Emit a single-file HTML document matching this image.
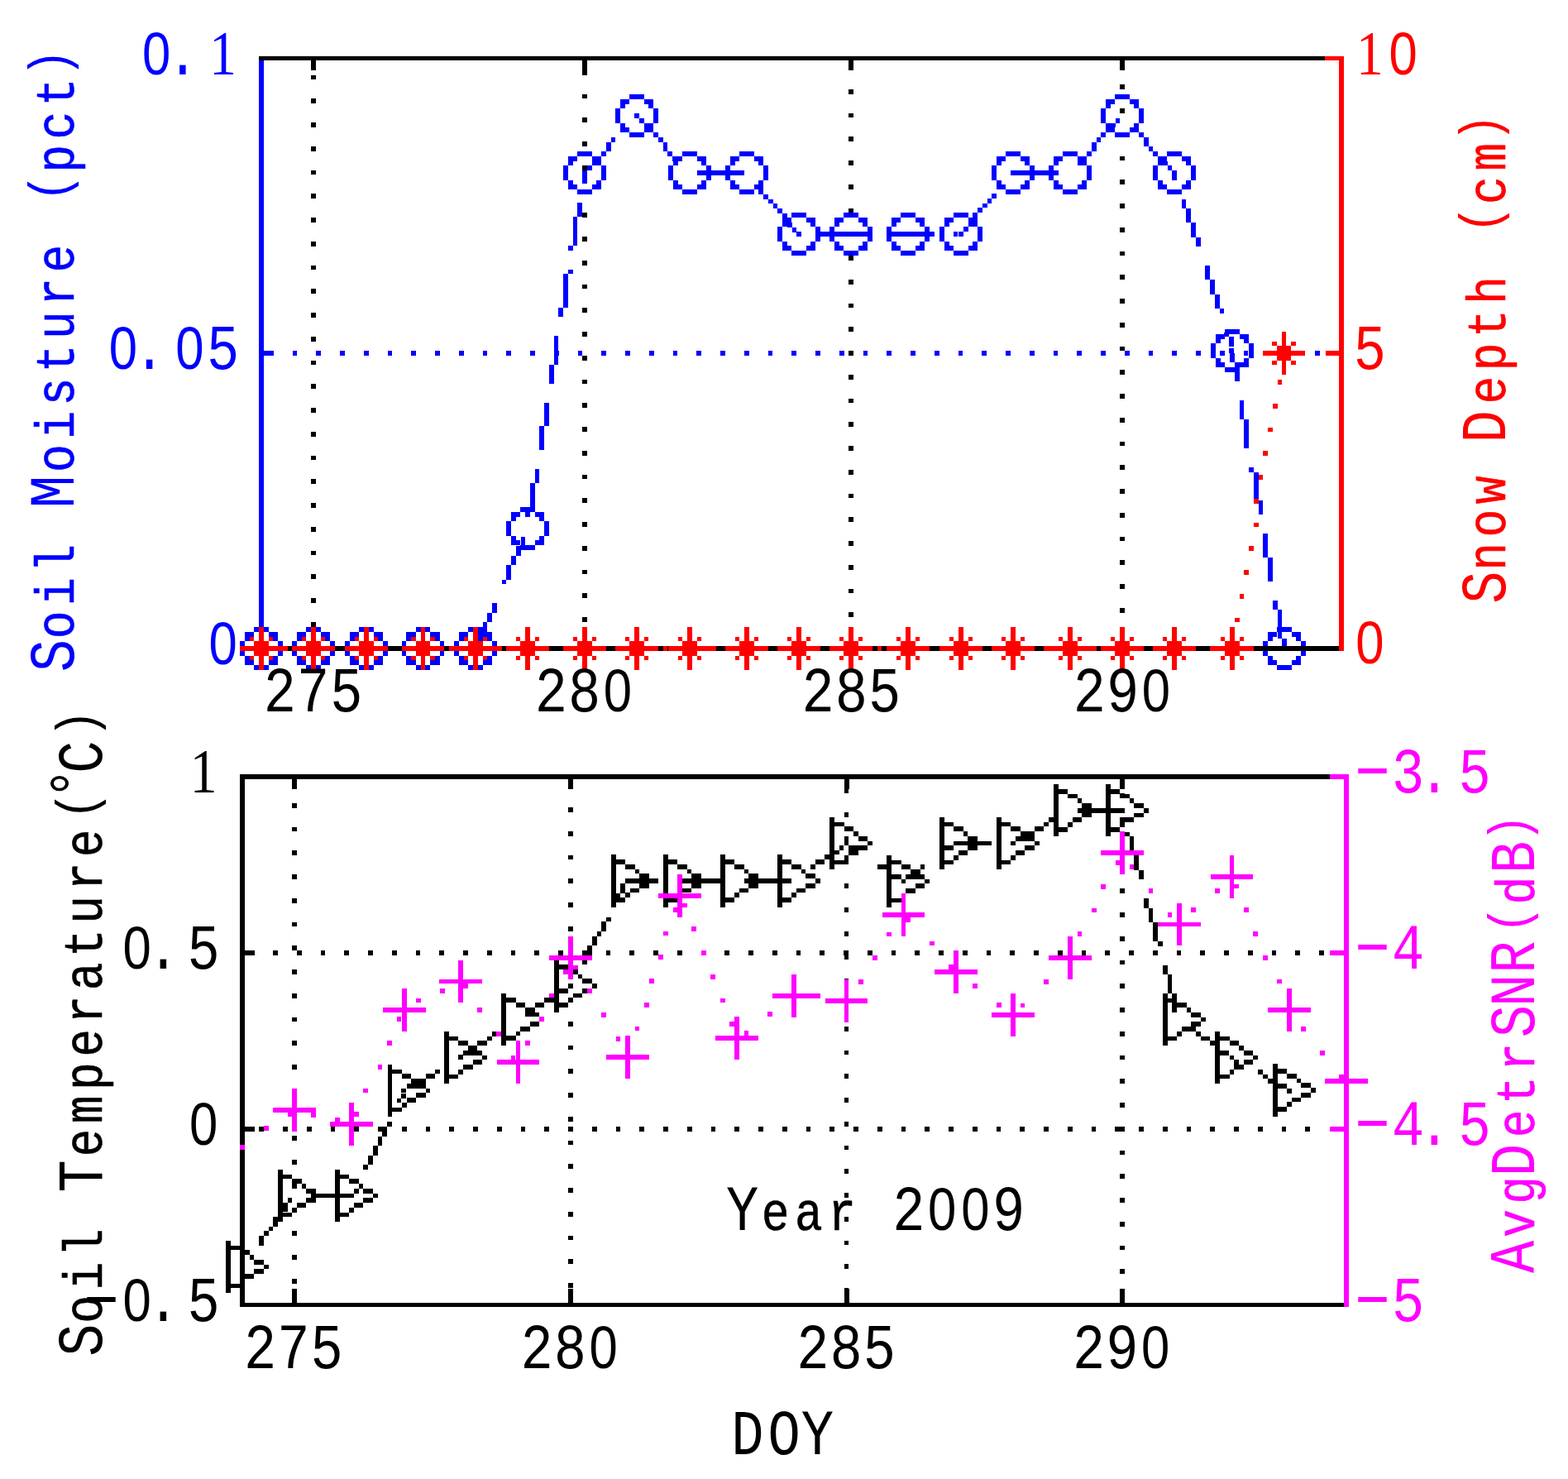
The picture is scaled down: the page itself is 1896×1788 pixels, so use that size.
<!DOCTYPE html>
<html><head><meta charset="utf-8"><title>Soil Moisture / Snow Depth / Soil Temperature - Year 2009</title>
<style>
html,body{margin:0;padding:0;background:#fff;}
body{width:1896px;height:1788px;overflow:hidden;}
svg{display:block;}
text{font-family:'Liberation Mono', 'DejaVu Sans Mono', monospace;stroke-linejoin:round;white-space:pre;}
</style></head>
<body>
<svg width="1896" height="1788" viewBox="0 0 1896 1788">
<rect x="0" y="0" width="1896" height="1788" fill="#ffffff"/>
<g shape-rendering="crispEdges">
<path fill="#000000" d="M376.12 90.67h5.75v5.75h-5.75zM376.12 119.42h5.75v5.75h-5.75zM376.12 148.18h5.75v5.75h-5.75zM376.12 176.93h5.75v5.75h-5.75zM376.12 205.68h5.75v5.75h-5.75zM376.12 234.43h5.75v5.75h-5.75zM376.12 263.18h5.75v5.75h-5.75zM376.12 291.93h5.75v5.75h-5.75zM376.12 320.68h5.75v5.75h-5.75zM376.12 349.43h5.75v5.75h-5.75zM376.12 378.18h5.75v5.75h-5.75zM376.12 406.93h5.75v5.75h-5.75zM376.12 435.68h5.75v5.75h-5.75zM376.12 464.43h5.75v5.75h-5.75zM376.12 493.18h5.75v5.75h-5.75zM376.12 521.92h5.75v5.75h-5.75zM376.12 550.67h5.75v5.75h-5.75zM376.12 579.42h5.75v5.75h-5.75zM376.12 608.17h5.75v5.75h-5.75zM376.12 636.92h5.75v5.75h-5.75zM376.12 665.67h5.75v5.75h-5.75zM376.12 694.42h5.75v5.75h-5.75zM376.12 723.17h5.75v5.75h-5.75zM376.12 751.92h5.75v5.75h-5.75zM376 73h6v11.5h-6zM376 769.5h6v11.5h-6zM704.12 84.88h5.75v5.75h-5.75zM704.12 113.62h5.75v5.75h-5.75zM704.12 142.38h5.75v5.75h-5.75zM704.12 171.12h5.75v5.75h-5.75zM704.12 199.88h5.75v5.75h-5.75zM704.12 228.62h5.75v5.75h-5.75zM704.12 257.38h5.75v5.75h-5.75zM704.12 286.12h5.75v5.75h-5.75zM704.12 314.88h5.75v5.75h-5.75zM704.12 343.62h5.75v5.75h-5.75zM704.12 372.38h5.75v5.75h-5.75zM704.12 401.12h5.75v5.75h-5.75zM704.12 429.88h5.75v5.75h-5.75zM704.12 458.62h5.75v5.75h-5.75zM704.12 487.38h5.75v5.75h-5.75zM704.12 516.12h5.75v5.75h-5.75zM704.12 544.88h5.75v5.75h-5.75zM704.12 573.62h5.75v5.75h-5.75zM704.12 602.38h5.75v5.75h-5.75zM704.12 631.12h5.75v5.75h-5.75zM704.12 659.88h5.75v5.75h-5.75zM704.12 688.62h5.75v5.75h-5.75zM704.12 717.38h5.75v5.75h-5.75zM704.12 746.12h5.75v5.75h-5.75zM704.12 774.88h5.75v5.75h-5.75zM704 73h6v11.5h-6zM704 769.5h6v11.5h-6zM1026.12 79.08h5.75v5.75h-5.75zM1026.12 107.83h5.75v5.75h-5.75zM1026.12 136.57h5.75v5.75h-5.75zM1026.12 165.32h5.75v5.75h-5.75zM1026.12 194.07h5.75v5.75h-5.75zM1026.12 222.82h5.75v5.75h-5.75zM1026.12 251.57h5.75v5.75h-5.75zM1026.12 280.32h5.75v5.75h-5.75zM1026.12 309.07h5.75v5.75h-5.75zM1026.12 337.82h5.75v5.75h-5.75zM1026.12 366.57h5.75v5.75h-5.75zM1026.12 395.32h5.75v5.75h-5.75zM1026.12 424.07h5.75v5.75h-5.75zM1026.12 452.82h5.75v5.75h-5.75zM1026.12 481.57h5.75v5.75h-5.75zM1026.12 510.33h5.75v5.75h-5.75zM1026.12 539.08h5.75v5.75h-5.75zM1026.12 567.83h5.75v5.75h-5.75zM1026.12 596.58h5.75v5.75h-5.75zM1026.12 625.33h5.75v5.75h-5.75zM1026.12 654.08h5.75v5.75h-5.75zM1026.12 682.83h5.75v5.75h-5.75zM1026.12 711.58h5.75v5.75h-5.75zM1026.12 740.33h5.75v5.75h-5.75zM1026.12 769.08h5.75v5.75h-5.75zM1026 73h6v11.5h-6zM1026 769.5h6v11.5h-6zM1354.12 73.53h5.75v5.75h-5.75zM1354.12 102.28h5.75v5.75h-5.75zM1354.12 131.03h5.75v5.75h-5.75zM1354.12 159.78h5.75v5.75h-5.75zM1354.12 188.53h5.75v5.75h-5.75zM1354.12 217.28h5.75v5.75h-5.75zM1354.12 246.03h5.75v5.75h-5.75zM1354.12 274.77h5.75v5.75h-5.75zM1354.12 303.52h5.75v5.75h-5.75zM1354.12 332.27h5.75v5.75h-5.75zM1354.12 361.02h5.75v5.75h-5.75zM1354.12 389.77h5.75v5.75h-5.75zM1354.12 418.52h5.75v5.75h-5.75zM1354.12 447.27h5.75v5.75h-5.75zM1354.12 476.02h5.75v5.75h-5.75zM1354.12 504.77h5.75v5.75h-5.75zM1354.12 533.52h5.75v5.75h-5.75zM1354.12 562.27h5.75v5.75h-5.75zM1354.12 591.02h5.75v5.75h-5.75zM1354.12 619.77h5.75v5.75h-5.75zM1354.12 648.52h5.75v5.75h-5.75zM1354.12 677.27h5.75v5.75h-5.75zM1354.12 706.02h5.75v5.75h-5.75zM1354.12 734.77h5.75v5.75h-5.75zM1354.12 763.52h5.75v5.75h-5.75zM1354 73h6v11.5h-6zM1354 769.5h6v11.5h-6z"/>
<path fill="#0000ff" d="M324.77 424.12h5.75v5.75h-5.75zM353.52 424.12h5.75v5.75h-5.75zM382.27 424.12h5.75v5.75h-5.75zM411.02 424.12h5.75v5.75h-5.75zM439.77 424.12h5.75v5.75h-5.75zM468.52 424.12h5.75v5.75h-5.75zM497.27 424.12h5.75v5.75h-5.75zM526.02 424.12h5.75v5.75h-5.75zM554.77 424.12h5.75v5.75h-5.75zM583.52 424.12h5.75v5.75h-5.75zM612.27 424.12h5.75v5.75h-5.75zM641.02 424.12h5.75v5.75h-5.75zM669.77 424.12h5.75v5.75h-5.75zM698.52 424.12h5.75v5.75h-5.75zM727.27 424.12h5.75v5.75h-5.75zM756.02 424.12h5.75v5.75h-5.75zM784.77 424.12h5.75v5.75h-5.75zM813.52 424.12h5.75v5.75h-5.75zM842.27 424.12h5.75v5.75h-5.75zM871.02 424.12h5.75v5.75h-5.75zM899.77 424.12h5.75v5.75h-5.75zM928.52 424.12h5.75v5.75h-5.75zM957.27 424.12h5.75v5.75h-5.75zM986.02 424.12h5.75v5.75h-5.75zM1014.77 424.12h5.75v5.75h-5.75zM1043.53 424.12h5.75v5.75h-5.75zM1072.28 424.12h5.75v5.75h-5.75zM1101.03 424.12h5.75v5.75h-5.75zM1129.78 424.12h5.75v5.75h-5.75zM1158.53 424.12h5.75v5.75h-5.75zM1187.28 424.12h5.75v5.75h-5.75zM1216.03 424.12h5.75v5.75h-5.75zM1244.78 424.12h5.75v5.75h-5.75zM1273.53 424.12h5.75v5.75h-5.75zM1302.28 424.12h5.75v5.75h-5.75zM1331.03 424.12h5.75v5.75h-5.75zM1359.78 424.12h5.75v5.75h-5.75zM1388.53 424.12h5.75v5.75h-5.75zM1417.28 424.12h5.75v5.75h-5.75zM1446.03 424.12h5.75v5.75h-5.75zM1474.78 424.12h5.75v5.75h-5.75zM1503.53 424.12h5.75v5.75h-5.75zM1532.28 424.12h5.75v5.75h-5.75zM1561.03 424.12h5.75v5.75h-5.75zM1589.78 424.12h5.75v5.75h-5.75zM319 424h11.5v6h-11.5z"/>
<path fill="#0000ff" d="M330.38 781.12h5.75v5.75h-5.75zM336.12 781.12h5.75v5.75h-5.75zM341.88 781.12h5.75v5.75h-5.75zM347.62 781.12h5.75v5.75h-5.75zM353.38 781.12h5.75v5.75h-5.75zM359.12 781.12h5.75v5.75h-5.75zM364.88 781.12h5.75v5.75h-5.75zM370.62 781.12h5.75v5.75h-5.75zM376.12 781.12h5.75v5.75h-5.75zM381.88 781.12h5.75v5.75h-5.75zM410.62 781.12h5.75v5.75h-5.75zM416.38 781.12h5.75v5.75h-5.75zM422.12 781.12h5.75v5.75h-5.75zM427.88 781.12h5.75v5.75h-5.75zM433.62 781.12h5.75v5.75h-5.75zM440.12 781.12h5.75v5.75h-5.75zM445.88 781.12h5.75v5.75h-5.75zM451.62 781.12h5.75v5.75h-5.75zM457.38 781.12h5.75v5.75h-5.75zM463.12 781.12h5.75v5.75h-5.75zM491.88 781.12h5.75v5.75h-5.75zM497.62 781.12h5.75v5.75h-5.75zM503.38 781.12h5.75v5.75h-5.75zM508.62 781.12h5.75v5.75h-5.75zM514.38 781.12h5.75v5.75h-5.75zM520.12 781.12h5.75v5.75h-5.75zM525.88 781.12h5.75v5.75h-5.75zM531.62 781.12h5.75v5.75h-5.75zM537.38 781.12h5.75v5.75h-5.75zM543.12 781.12h5.75v5.75h-5.75zM572.12 781.12h5.75v5.75h-5.75zM572.12 775.38h5.75v5.75h-5.75zM577.88 769.62h5.75v5.75h-5.75zM577.88 763.88h5.75v5.75h-5.75zM583.62 758.12h5.75v5.75h-5.75zM583.62 752.38h5.75v5.75h-5.75zM589.38 746.62h5.75v5.75h-5.75zM589.38 740.88h5.75v5.75h-5.75zM595.12 735.12h5.75v5.75h-5.75zM595.12 729.38h5.75v5.75h-5.75zM606.62 700.62h5.75v5.75h-5.75zM612.38 694.88h5.75v5.75h-5.75zM612.38 689.12h5.75v5.75h-5.75zM612.38 683.38h5.75v5.75h-5.75zM618.12 677.62h5.75v5.75h-5.75zM618.12 671.88h5.75v5.75h-5.75zM623.88 666.12h5.75v5.75h-5.75zM623.88 660.38h5.75v5.75h-5.75zM629.62 654.62h5.75v5.75h-5.75zM629.62 648.88h5.75v5.75h-5.75zM635.12 618.88h5.75v5.75h-5.75zM640.88 613.12h5.75v5.75h-5.75zM640.88 607.38h5.75v5.75h-5.75zM640.88 601.62h5.75v5.75h-5.75zM640.88 595.88h5.75v5.75h-5.75zM640.88 590.12h5.75v5.75h-5.75zM640.88 584.38h5.75v5.75h-5.75zM646.62 578.62h5.75v5.75h-5.75zM646.62 572.88h5.75v5.75h-5.75zM646.62 567.12h5.75v5.75h-5.75zM652.38 538.38h5.75v5.75h-5.75zM652.38 532.62h5.75v5.75h-5.75zM652.38 526.88h5.75v5.75h-5.75zM652.38 521.12h5.75v5.75h-5.75zM652.38 515.38h5.75v5.75h-5.75zM658.12 509.62h5.75v5.75h-5.75zM658.12 503.88h5.75v5.75h-5.75zM658.12 498.12h5.75v5.75h-5.75zM658.12 492.38h5.75v5.75h-5.75zM658.12 486.62h5.75v5.75h-5.75zM663.88 457.88h5.75v5.75h-5.75zM663.88 452.12h5.75v5.75h-5.75zM663.88 446.38h5.75v5.75h-5.75zM663.88 440.62h5.75v5.75h-5.75zM669.62 434.88h5.75v5.75h-5.75zM669.62 429.12h5.75v5.75h-5.75zM669.62 423.38h5.75v5.75h-5.75zM669.62 417.62h5.75v5.75h-5.75zM669.62 411.88h5.75v5.75h-5.75zM669.62 406.12h5.75v5.75h-5.75zM675.38 377.38h5.75v5.75h-5.75zM675.38 371.62h5.75v5.75h-5.75zM681.12 365.88h5.75v5.75h-5.75zM681.12 360.12h5.75v5.75h-5.75zM681.12 354.38h5.75v5.75h-5.75zM681.12 348.62h5.75v5.75h-5.75zM681.12 342.88h5.75v5.75h-5.75zM681.12 337.12h5.75v5.75h-5.75zM681.12 331.38h5.75v5.75h-5.75zM686.88 325.62h5.75v5.75h-5.75zM686.88 296.88h5.75v5.75h-5.75zM692.62 291.12h5.75v5.75h-5.75zM692.62 285.38h5.75v5.75h-5.75zM692.62 279.62h5.75v5.75h-5.75zM692.62 273.88h5.75v5.75h-5.75zM692.62 268.12h5.75v5.75h-5.75zM692.62 262.38h5.75v5.75h-5.75zM698.38 256.62h5.75v5.75h-5.75zM698.38 250.88h5.75v5.75h-5.75zM698.38 245.12h5.75v5.75h-5.75zM704.12 216.38h5.75v5.75h-5.75zM704.12 210.62h5.75v5.75h-5.75zM704.12 206.12h5.75v5.75h-5.75zM709.88 200.38h5.75v5.75h-5.75zM715.62 194.62h5.75v5.75h-5.75zM721.38 188.88h5.75v5.75h-5.75zM727.12 183.12h5.75v5.75h-5.75zM732.88 177.38h5.75v5.75h-5.75zM732.88 171.62h5.75v5.75h-5.75zM738.62 165.88h5.75v5.75h-5.75zM767.38 137.12h5.75v5.75h-5.75zM772.88 142.88h5.75v5.75h-5.75zM778.62 148.62h5.75v5.75h-5.75zM784.38 154.38h5.75v5.75h-5.75zM790.12 160.12h5.75v5.75h-5.75zM795.88 165.88h5.75v5.75h-5.75zM801.62 171.62h5.75v5.75h-5.75zM801.62 177.38h5.75v5.75h-5.75zM807.38 183.12h5.75v5.75h-5.75zM813.12 188.88h5.75v5.75h-5.75zM842.62 206.12h5.75v5.75h-5.75zM848.38 206.12h5.75v5.75h-5.75zM854.12 206.12h5.75v5.75h-5.75zM859.88 206.12h5.75v5.75h-5.75zM865.62 206.12h5.75v5.75h-5.75zM871.38 206.12h5.75v5.75h-5.75zM877.12 206.12h5.75v5.75h-5.75zM882.88 206.12h5.75v5.75h-5.75zM888.62 206.12h5.75v5.75h-5.75zM894.38 206.12h5.75v5.75h-5.75zM917.38 229.12h5.75v5.75h-5.75zM923.12 234.88h5.75v5.75h-5.75zM928.88 240.62h5.75v5.75h-5.75zM934.62 246.38h5.75v5.75h-5.75zM940.38 252.12h5.75v5.75h-5.75zM946.12 257.88h5.75v5.75h-5.75zM946.12 263.62h5.75v5.75h-5.75zM951.88 269.38h5.75v5.75h-5.75zM957.62 275.12h5.75v5.75h-5.75zM963.38 280.12h5.75v5.75h-5.75zM991.88 280.12h5.75v5.75h-5.75zM997.62 280.12h5.75v5.75h-5.75zM1003.38 280.12h5.75v5.75h-5.75zM1009.12 280.12h5.75v5.75h-5.75zM1014.88 280.12h5.75v5.75h-5.75zM1020.62 280.12h5.75v5.75h-5.75zM1026.12 280.12h5.75v5.75h-5.75zM1031.88 280.12h5.75v5.75h-5.75zM1037.62 280.12h5.75v5.75h-5.75zM1043.38 280.12h5.75v5.75h-5.75zM1072.12 280.12h5.75v5.75h-5.75zM1077.88 280.12h5.75v5.75h-5.75zM1083.62 280.12h5.75v5.75h-5.75zM1089.38 280.12h5.75v5.75h-5.75zM1095.12 280.12h5.75v5.75h-5.75zM1100.88 280.12h5.75v5.75h-5.75zM1106.62 280.12h5.75v5.75h-5.75zM1112.38 280.12h5.75v5.75h-5.75zM1118.12 280.12h5.75v5.75h-5.75zM1123.88 280.12h5.75v5.75h-5.75zM1152.62 280.12h5.75v5.75h-5.75zM1159.12 280.12h5.75v5.75h-5.75zM1164.88 274.38h5.75v5.75h-5.75zM1170.62 268.62h5.75v5.75h-5.75zM1176.38 262.88h5.75v5.75h-5.75zM1176.38 257.12h5.75v5.75h-5.75zM1182.12 251.38h5.75v5.75h-5.75zM1187.88 245.62h5.75v5.75h-5.75zM1193.62 239.88h5.75v5.75h-5.75zM1199.38 234.12h5.75v5.75h-5.75zM1222.38 206.12h5.75v5.75h-5.75zM1227.88 206.12h5.75v5.75h-5.75zM1233.62 206.12h5.75v5.75h-5.75zM1239.38 206.12h5.75v5.75h-5.75zM1245.12 206.12h5.75v5.75h-5.75zM1250.88 206.12h5.75v5.75h-5.75zM1256.62 206.12h5.75v5.75h-5.75zM1262.38 206.12h5.75v5.75h-5.75zM1268.12 206.12h5.75v5.75h-5.75zM1273.88 206.12h5.75v5.75h-5.75zM1302.62 194.62h5.75v5.75h-5.75zM1308.38 188.88h5.75v5.75h-5.75zM1314.12 183.12h5.75v5.75h-5.75zM1319.88 177.38h5.75v5.75h-5.75zM1319.88 171.62h5.75v5.75h-5.75zM1325.62 165.88h5.75v5.75h-5.75zM1331.38 160.12h5.75v5.75h-5.75zM1337.12 154.38h5.75v5.75h-5.75zM1342.88 148.62h5.75v5.75h-5.75zM1348.62 142.88h5.75v5.75h-5.75zM1377.12 160.12h5.75v5.75h-5.75zM1382.88 165.88h5.75v5.75h-5.75zM1382.88 171.62h5.75v5.75h-5.75zM1388.62 177.38h5.75v5.75h-5.75zM1394.38 183.12h5.75v5.75h-5.75zM1400.12 188.88h5.75v5.75h-5.75zM1405.88 194.62h5.75v5.75h-5.75zM1411.62 200.38h5.75v5.75h-5.75zM1417.38 206.12h5.75v5.75h-5.75zM1417.12 211.88h5.75v5.75h-5.75zM1428.62 240.62h5.75v5.75h-5.75zM1428.62 246.38h5.75v5.75h-5.75zM1434.38 252.12h5.75v5.75h-5.75zM1434.38 257.88h5.75v5.75h-5.75zM1434.38 263.62h5.75v5.75h-5.75zM1440.12 269.38h5.75v5.75h-5.75zM1440.12 275.12h5.75v5.75h-5.75zM1440.12 280.88h5.75v5.75h-5.75zM1445.88 286.62h5.75v5.75h-5.75zM1445.88 292.38h5.75v5.75h-5.75zM1457.38 321.12h5.75v5.75h-5.75zM1457.38 326.88h5.75v5.75h-5.75zM1457.38 332.62h5.75v5.75h-5.75zM1463.12 338.38h5.75v5.75h-5.75zM1463.12 344.12h5.75v5.75h-5.75zM1463.12 349.88h5.75v5.75h-5.75zM1468.88 355.62h5.75v5.75h-5.75zM1468.88 361.38h5.75v5.75h-5.75zM1468.88 367.12h5.75v5.75h-5.75zM1474.62 372.88h5.75v5.75h-5.75zM1480.38 401.62h5.75v5.75h-5.75zM1486.12 407.38h5.75v5.75h-5.75zM1486.12 413.12h5.75v5.75h-5.75zM1486.12 421.12h5.75v5.75h-5.75zM1487.12 426.88h5.75v5.75h-5.75zM1487.12 432.62h5.75v5.75h-5.75zM1492.88 438.38h5.75v5.75h-5.75zM1492.88 444.12h5.75v5.75h-5.75zM1492.88 449.88h5.75v5.75h-5.75zM1492.88 455.62h5.75v5.75h-5.75zM1498.62 484.38h5.75v5.75h-5.75zM1498.62 490.12h5.75v5.75h-5.75zM1498.62 495.88h5.75v5.75h-5.75zM1498.62 501.62h5.75v5.75h-5.75zM1504.38 507.38h5.75v5.75h-5.75zM1504.38 513.12h5.75v5.75h-5.75zM1504.38 518.88h5.75v5.75h-5.75zM1504.38 524.62h5.75v5.75h-5.75zM1504.38 530.38h5.75v5.75h-5.75zM1504.38 536.12h5.75v5.75h-5.75zM1510.12 564.88h5.75v5.75h-5.75zM1515.88 570.62h5.75v5.75h-5.75zM1515.88 576.38h5.75v5.75h-5.75zM1515.88 582.12h5.75v5.75h-5.75zM1515.88 587.88h5.75v5.75h-5.75zM1515.88 593.62h5.75v5.75h-5.75zM1515.88 599.38h5.75v5.75h-5.75zM1521.62 605.12h5.75v5.75h-5.75zM1521.62 610.88h5.75v5.75h-5.75zM1521.62 616.62h5.75v5.75h-5.75zM1527.38 645.38h5.75v5.75h-5.75zM1527.38 651.12h5.75v5.75h-5.75zM1527.38 656.88h5.75v5.75h-5.75zM1527.38 662.62h5.75v5.75h-5.75zM1527.38 668.38h5.75v5.75h-5.75zM1533.12 674.12h5.75v5.75h-5.75zM1533.12 679.88h5.75v5.75h-5.75zM1533.12 685.62h5.75v5.75h-5.75zM1533.12 691.38h5.75v5.75h-5.75zM1533.12 697.12h5.75v5.75h-5.75zM1538.88 725.88h5.75v5.75h-5.75zM1538.88 731.62h5.75v5.75h-5.75zM1544.62 737.38h5.75v5.75h-5.75zM1544.62 743.12h5.75v5.75h-5.75zM1544.62 748.88h5.75v5.75h-5.75zM1544.62 754.62h5.75v5.75h-5.75zM1544.62 760.38h5.75v5.75h-5.75zM1544.62 766.12h5.75v5.75h-5.75zM1550.38 771.88h5.75v5.75h-5.75zM1550.38 777.62h5.75v5.75h-5.75z"/>
<path fill="#0000ff" d="M307.38 758.12h5.75v5.75h-5.75zM307.38 804.12h5.75v5.75h-5.75zM313.12 758.12h5.75v5.75h-5.75zM313.12 804.12h5.75v5.75h-5.75zM318.88 758.12h5.75v5.75h-5.75zM318.88 804.12h5.75v5.75h-5.75zM295.88 763.88h5.75v5.75h-5.75zM295.88 798.38h5.75v5.75h-5.75zM301.62 763.88h5.75v5.75h-5.75zM301.62 798.38h5.75v5.75h-5.75zM324.62 763.88h5.75v5.75h-5.75zM324.62 798.38h5.75v5.75h-5.75zM330.38 763.88h5.75v5.75h-5.75zM330.38 798.38h5.75v5.75h-5.75zM295.88 769.62h5.75v5.75h-5.75zM295.88 792.62h5.75v5.75h-5.75zM330.38 769.62h5.75v5.75h-5.75zM330.38 792.62h5.75v5.75h-5.75zM290.12 775.38h5.75v5.75h-5.75zM336.12 775.38h5.75v5.75h-5.75zM290.12 781.12h5.75v5.75h-5.75zM336.12 781.12h5.75v5.75h-5.75zM290.12 786.88h5.75v5.75h-5.75zM336.12 786.88h5.75v5.75h-5.75zM370.38 758.12h5.75v5.75h-5.75zM370.38 804.12h5.75v5.75h-5.75zM376.12 758.12h5.75v5.75h-5.75zM376.12 804.12h5.75v5.75h-5.75zM381.88 758.12h5.75v5.75h-5.75zM381.88 804.12h5.75v5.75h-5.75zM358.88 763.88h5.75v5.75h-5.75zM358.88 798.38h5.75v5.75h-5.75zM364.62 763.88h5.75v5.75h-5.75zM364.62 798.38h5.75v5.75h-5.75zM387.62 763.88h5.75v5.75h-5.75zM387.62 798.38h5.75v5.75h-5.75zM393.38 763.88h5.75v5.75h-5.75zM393.38 798.38h5.75v5.75h-5.75zM358.88 769.62h5.75v5.75h-5.75zM358.88 792.62h5.75v5.75h-5.75zM393.38 769.62h5.75v5.75h-5.75zM393.38 792.62h5.75v5.75h-5.75zM353.12 775.38h5.75v5.75h-5.75zM399.12 775.38h5.75v5.75h-5.75zM353.12 781.12h5.75v5.75h-5.75zM399.12 781.12h5.75v5.75h-5.75zM353.12 786.88h5.75v5.75h-5.75zM399.12 786.88h5.75v5.75h-5.75zM434.38 758.12h5.75v5.75h-5.75zM434.38 804.12h5.75v5.75h-5.75zM440.12 758.12h5.75v5.75h-5.75zM440.12 804.12h5.75v5.75h-5.75zM445.88 758.12h5.75v5.75h-5.75zM445.88 804.12h5.75v5.75h-5.75zM422.88 763.88h5.75v5.75h-5.75zM422.88 798.38h5.75v5.75h-5.75zM428.62 763.88h5.75v5.75h-5.75zM428.62 798.38h5.75v5.75h-5.75zM451.62 763.88h5.75v5.75h-5.75zM451.62 798.38h5.75v5.75h-5.75zM457.38 763.88h5.75v5.75h-5.75zM457.38 798.38h5.75v5.75h-5.75zM422.88 769.62h5.75v5.75h-5.75zM422.88 792.62h5.75v5.75h-5.75zM457.38 769.62h5.75v5.75h-5.75zM457.38 792.62h5.75v5.75h-5.75zM417.12 775.38h5.75v5.75h-5.75zM463.12 775.38h5.75v5.75h-5.75zM417.12 781.12h5.75v5.75h-5.75zM463.12 781.12h5.75v5.75h-5.75zM417.12 786.88h5.75v5.75h-5.75zM463.12 786.88h5.75v5.75h-5.75zM502.88 758.12h5.75v5.75h-5.75zM502.88 804.12h5.75v5.75h-5.75zM508.62 758.12h5.75v5.75h-5.75zM508.62 804.12h5.75v5.75h-5.75zM514.38 758.12h5.75v5.75h-5.75zM514.38 804.12h5.75v5.75h-5.75zM491.38 763.88h5.75v5.75h-5.75zM491.38 798.38h5.75v5.75h-5.75zM497.12 763.88h5.75v5.75h-5.75zM497.12 798.38h5.75v5.75h-5.75zM520.12 763.88h5.75v5.75h-5.75zM520.12 798.38h5.75v5.75h-5.75zM525.88 763.88h5.75v5.75h-5.75zM525.88 798.38h5.75v5.75h-5.75zM491.38 769.62h5.75v5.75h-5.75zM491.38 792.62h5.75v5.75h-5.75zM525.88 769.62h5.75v5.75h-5.75zM525.88 792.62h5.75v5.75h-5.75zM485.62 775.38h5.75v5.75h-5.75zM531.62 775.38h5.75v5.75h-5.75zM485.62 781.12h5.75v5.75h-5.75zM531.62 781.12h5.75v5.75h-5.75zM485.62 786.88h5.75v5.75h-5.75zM531.62 786.88h5.75v5.75h-5.75zM566.38 758.12h5.75v5.75h-5.75zM566.38 804.12h5.75v5.75h-5.75zM572.12 758.12h5.75v5.75h-5.75zM572.12 804.12h5.75v5.75h-5.75zM577.88 758.12h5.75v5.75h-5.75zM577.88 804.12h5.75v5.75h-5.75zM554.88 763.88h5.75v5.75h-5.75zM554.88 798.38h5.75v5.75h-5.75zM560.62 763.88h5.75v5.75h-5.75zM560.62 798.38h5.75v5.75h-5.75zM583.62 763.88h5.75v5.75h-5.75zM583.62 798.38h5.75v5.75h-5.75zM589.38 763.88h5.75v5.75h-5.75zM589.38 798.38h5.75v5.75h-5.75zM554.88 769.62h5.75v5.75h-5.75zM554.88 792.62h5.75v5.75h-5.75zM589.38 769.62h5.75v5.75h-5.75zM589.38 792.62h5.75v5.75h-5.75zM549.12 775.38h5.75v5.75h-5.75zM595.12 775.38h5.75v5.75h-5.75zM549.12 781.12h5.75v5.75h-5.75zM595.12 781.12h5.75v5.75h-5.75zM549.12 786.88h5.75v5.75h-5.75zM595.12 786.88h5.75v5.75h-5.75zM629.38 613.12h5.75v5.75h-5.75zM629.38 659.12h5.75v5.75h-5.75zM635.12 613.12h5.75v5.75h-5.75zM635.12 659.12h5.75v5.75h-5.75zM640.88 613.12h5.75v5.75h-5.75zM640.88 659.12h5.75v5.75h-5.75zM617.88 618.88h5.75v5.75h-5.75zM617.88 653.38h5.75v5.75h-5.75zM623.62 618.88h5.75v5.75h-5.75zM623.62 653.38h5.75v5.75h-5.75zM646.62 618.88h5.75v5.75h-5.75zM646.62 653.38h5.75v5.75h-5.75zM652.38 618.88h5.75v5.75h-5.75zM652.38 653.38h5.75v5.75h-5.75zM617.88 624.62h5.75v5.75h-5.75zM617.88 647.62h5.75v5.75h-5.75zM652.38 624.62h5.75v5.75h-5.75zM652.38 647.62h5.75v5.75h-5.75zM612.12 630.38h5.75v5.75h-5.75zM658.12 630.38h5.75v5.75h-5.75zM612.12 636.12h5.75v5.75h-5.75zM658.12 636.12h5.75v5.75h-5.75zM612.12 641.88h5.75v5.75h-5.75zM658.12 641.88h5.75v5.75h-5.75zM698.38 183.12h5.75v5.75h-5.75zM698.38 229.12h5.75v5.75h-5.75zM704.12 183.12h5.75v5.75h-5.75zM704.12 229.12h5.75v5.75h-5.75zM709.88 183.12h5.75v5.75h-5.75zM709.88 229.12h5.75v5.75h-5.75zM686.88 188.88h5.75v5.75h-5.75zM686.88 223.38h5.75v5.75h-5.75zM692.62 188.88h5.75v5.75h-5.75zM692.62 223.38h5.75v5.75h-5.75zM715.62 188.88h5.75v5.75h-5.75zM715.62 223.38h5.75v5.75h-5.75zM721.38 188.88h5.75v5.75h-5.75zM721.38 223.38h5.75v5.75h-5.75zM686.88 194.62h5.75v5.75h-5.75zM686.88 217.62h5.75v5.75h-5.75zM721.38 194.62h5.75v5.75h-5.75zM721.38 217.62h5.75v5.75h-5.75zM681.12 200.38h5.75v5.75h-5.75zM727.12 200.38h5.75v5.75h-5.75zM681.12 206.12h5.75v5.75h-5.75zM727.12 206.12h5.75v5.75h-5.75zM681.12 211.88h5.75v5.75h-5.75zM727.12 211.88h5.75v5.75h-5.75zM761.38 114.12h5.75v5.75h-5.75zM761.38 160.12h5.75v5.75h-5.75zM767.12 114.12h5.75v5.75h-5.75zM767.12 160.12h5.75v5.75h-5.75zM772.88 114.12h5.75v5.75h-5.75zM772.88 160.12h5.75v5.75h-5.75zM749.88 119.88h5.75v5.75h-5.75zM749.88 154.38h5.75v5.75h-5.75zM755.62 119.88h5.75v5.75h-5.75zM755.62 154.38h5.75v5.75h-5.75zM778.62 119.88h5.75v5.75h-5.75zM778.62 154.38h5.75v5.75h-5.75zM784.38 119.88h5.75v5.75h-5.75zM784.38 154.38h5.75v5.75h-5.75zM749.88 125.62h5.75v5.75h-5.75zM749.88 148.62h5.75v5.75h-5.75zM784.38 125.62h5.75v5.75h-5.75zM784.38 148.62h5.75v5.75h-5.75zM744.12 131.38h5.75v5.75h-5.75zM790.12 131.38h5.75v5.75h-5.75zM744.12 137.12h5.75v5.75h-5.75zM790.12 137.12h5.75v5.75h-5.75zM744.12 142.88h5.75v5.75h-5.75zM790.12 142.88h5.75v5.75h-5.75zM825.38 183.12h5.75v5.75h-5.75zM825.38 229.12h5.75v5.75h-5.75zM831.12 183.12h5.75v5.75h-5.75zM831.12 229.12h5.75v5.75h-5.75zM836.88 183.12h5.75v5.75h-5.75zM836.88 229.12h5.75v5.75h-5.75zM813.88 188.88h5.75v5.75h-5.75zM813.88 223.38h5.75v5.75h-5.75zM819.62 188.88h5.75v5.75h-5.75zM819.62 223.38h5.75v5.75h-5.75zM842.62 188.88h5.75v5.75h-5.75zM842.62 223.38h5.75v5.75h-5.75zM848.38 188.88h5.75v5.75h-5.75zM848.38 223.38h5.75v5.75h-5.75zM813.88 194.62h5.75v5.75h-5.75zM813.88 217.62h5.75v5.75h-5.75zM848.38 194.62h5.75v5.75h-5.75zM848.38 217.62h5.75v5.75h-5.75zM808.12 200.38h5.75v5.75h-5.75zM854.12 200.38h5.75v5.75h-5.75zM808.12 206.12h5.75v5.75h-5.75zM854.12 206.12h5.75v5.75h-5.75zM808.12 211.88h5.75v5.75h-5.75zM854.12 211.88h5.75v5.75h-5.75zM894.38 183.12h5.75v5.75h-5.75zM894.38 229.12h5.75v5.75h-5.75zM900.12 183.12h5.75v5.75h-5.75zM900.12 229.12h5.75v5.75h-5.75zM905.88 183.12h5.75v5.75h-5.75zM905.88 229.12h5.75v5.75h-5.75zM882.88 188.88h5.75v5.75h-5.75zM882.88 223.38h5.75v5.75h-5.75zM888.62 188.88h5.75v5.75h-5.75zM888.62 223.38h5.75v5.75h-5.75zM911.62 188.88h5.75v5.75h-5.75zM911.62 223.38h5.75v5.75h-5.75zM917.38 188.88h5.75v5.75h-5.75zM917.38 223.38h5.75v5.75h-5.75zM882.88 194.62h5.75v5.75h-5.75zM882.88 217.62h5.75v5.75h-5.75zM917.38 194.62h5.75v5.75h-5.75zM917.38 217.62h5.75v5.75h-5.75zM877.12 200.38h5.75v5.75h-5.75zM923.12 200.38h5.75v5.75h-5.75zM877.12 206.12h5.75v5.75h-5.75zM923.12 206.12h5.75v5.75h-5.75zM877.12 211.88h5.75v5.75h-5.75zM923.12 211.88h5.75v5.75h-5.75zM957.38 257.12h5.75v5.75h-5.75zM957.38 303.12h5.75v5.75h-5.75zM963.12 257.12h5.75v5.75h-5.75zM963.12 303.12h5.75v5.75h-5.75zM968.88 257.12h5.75v5.75h-5.75zM968.88 303.12h5.75v5.75h-5.75zM945.88 262.88h5.75v5.75h-5.75zM945.88 297.38h5.75v5.75h-5.75zM951.62 262.88h5.75v5.75h-5.75zM951.62 297.38h5.75v5.75h-5.75zM974.62 262.88h5.75v5.75h-5.75zM974.62 297.38h5.75v5.75h-5.75zM980.38 262.88h5.75v5.75h-5.75zM980.38 297.38h5.75v5.75h-5.75zM945.88 268.62h5.75v5.75h-5.75zM945.88 291.62h5.75v5.75h-5.75zM980.38 268.62h5.75v5.75h-5.75zM980.38 291.62h5.75v5.75h-5.75zM940.12 274.38h5.75v5.75h-5.75zM986.12 274.38h5.75v5.75h-5.75zM940.12 280.12h5.75v5.75h-5.75zM986.12 280.12h5.75v5.75h-5.75zM940.12 285.88h5.75v5.75h-5.75zM986.12 285.88h5.75v5.75h-5.75zM1020.38 257.12h5.75v5.75h-5.75zM1020.38 303.12h5.75v5.75h-5.75zM1026.12 257.12h5.75v5.75h-5.75zM1026.12 303.12h5.75v5.75h-5.75zM1031.88 257.12h5.75v5.75h-5.75zM1031.88 303.12h5.75v5.75h-5.75zM1008.88 262.88h5.75v5.75h-5.75zM1008.88 297.38h5.75v5.75h-5.75zM1014.62 262.88h5.75v5.75h-5.75zM1014.62 297.38h5.75v5.75h-5.75zM1037.62 262.88h5.75v5.75h-5.75zM1037.62 297.38h5.75v5.75h-5.75zM1043.38 262.88h5.75v5.75h-5.75zM1043.38 297.38h5.75v5.75h-5.75zM1008.88 268.62h5.75v5.75h-5.75zM1008.88 291.62h5.75v5.75h-5.75zM1043.38 268.62h5.75v5.75h-5.75zM1043.38 291.62h5.75v5.75h-5.75zM1003.12 274.38h5.75v5.75h-5.75zM1049.12 274.38h5.75v5.75h-5.75zM1003.12 280.12h5.75v5.75h-5.75zM1049.12 280.12h5.75v5.75h-5.75zM1003.12 285.88h5.75v5.75h-5.75zM1049.12 285.88h5.75v5.75h-5.75zM1089.38 257.12h5.75v5.75h-5.75zM1089.38 303.12h5.75v5.75h-5.75zM1095.12 257.12h5.75v5.75h-5.75zM1095.12 303.12h5.75v5.75h-5.75zM1100.88 257.12h5.75v5.75h-5.75zM1100.88 303.12h5.75v5.75h-5.75zM1077.88 262.88h5.75v5.75h-5.75zM1077.88 297.38h5.75v5.75h-5.75zM1083.62 262.88h5.75v5.75h-5.75zM1083.62 297.38h5.75v5.75h-5.75zM1106.62 262.88h5.75v5.75h-5.75zM1106.62 297.38h5.75v5.75h-5.75zM1112.38 262.88h5.75v5.75h-5.75zM1112.38 297.38h5.75v5.75h-5.75zM1077.88 268.62h5.75v5.75h-5.75zM1077.88 291.62h5.75v5.75h-5.75zM1112.38 268.62h5.75v5.75h-5.75zM1112.38 291.62h5.75v5.75h-5.75zM1072.12 274.38h5.75v5.75h-5.75zM1118.12 274.38h5.75v5.75h-5.75zM1072.12 280.12h5.75v5.75h-5.75zM1118.12 280.12h5.75v5.75h-5.75zM1072.12 285.88h5.75v5.75h-5.75zM1118.12 285.88h5.75v5.75h-5.75zM1153.38 257.12h5.75v5.75h-5.75zM1153.38 303.12h5.75v5.75h-5.75zM1159.12 257.12h5.75v5.75h-5.75zM1159.12 303.12h5.75v5.75h-5.75zM1164.88 257.12h5.75v5.75h-5.75zM1164.88 303.12h5.75v5.75h-5.75zM1141.88 262.88h5.75v5.75h-5.75zM1141.88 297.38h5.75v5.75h-5.75zM1147.62 262.88h5.75v5.75h-5.75zM1147.62 297.38h5.75v5.75h-5.75zM1170.62 262.88h5.75v5.75h-5.75zM1170.62 297.38h5.75v5.75h-5.75zM1176.38 262.88h5.75v5.75h-5.75zM1176.38 297.38h5.75v5.75h-5.75zM1141.88 268.62h5.75v5.75h-5.75zM1141.88 291.62h5.75v5.75h-5.75zM1176.38 268.62h5.75v5.75h-5.75zM1176.38 291.62h5.75v5.75h-5.75zM1136.12 274.38h5.75v5.75h-5.75zM1182.12 274.38h5.75v5.75h-5.75zM1136.12 280.12h5.75v5.75h-5.75zM1182.12 280.12h5.75v5.75h-5.75zM1136.12 285.88h5.75v5.75h-5.75zM1182.12 285.88h5.75v5.75h-5.75zM1216.38 183.12h5.75v5.75h-5.75zM1216.38 229.12h5.75v5.75h-5.75zM1222.12 183.12h5.75v5.75h-5.75zM1222.12 229.12h5.75v5.75h-5.75zM1227.88 183.12h5.75v5.75h-5.75zM1227.88 229.12h5.75v5.75h-5.75zM1204.88 188.88h5.75v5.75h-5.75zM1204.88 223.38h5.75v5.75h-5.75zM1210.62 188.88h5.75v5.75h-5.75zM1210.62 223.38h5.75v5.75h-5.75zM1233.62 188.88h5.75v5.75h-5.75zM1233.62 223.38h5.75v5.75h-5.75zM1239.38 188.88h5.75v5.75h-5.75zM1239.38 223.38h5.75v5.75h-5.75zM1204.88 194.62h5.75v5.75h-5.75zM1204.88 217.62h5.75v5.75h-5.75zM1239.38 194.62h5.75v5.75h-5.75zM1239.38 217.62h5.75v5.75h-5.75zM1199.12 200.38h5.75v5.75h-5.75zM1245.12 200.38h5.75v5.75h-5.75zM1199.12 206.12h5.75v5.75h-5.75zM1245.12 206.12h5.75v5.75h-5.75zM1199.12 211.88h5.75v5.75h-5.75zM1245.12 211.88h5.75v5.75h-5.75zM1285.38 183.12h5.75v5.75h-5.75zM1285.38 229.12h5.75v5.75h-5.75zM1291.12 183.12h5.75v5.75h-5.75zM1291.12 229.12h5.75v5.75h-5.75zM1296.88 183.12h5.75v5.75h-5.75zM1296.88 229.12h5.75v5.75h-5.75zM1273.88 188.88h5.75v5.75h-5.75zM1273.88 223.38h5.75v5.75h-5.75zM1279.62 188.88h5.75v5.75h-5.75zM1279.62 223.38h5.75v5.75h-5.75zM1302.62 188.88h5.75v5.75h-5.75zM1302.62 223.38h5.75v5.75h-5.75zM1308.38 188.88h5.75v5.75h-5.75zM1308.38 223.38h5.75v5.75h-5.75zM1273.88 194.62h5.75v5.75h-5.75zM1273.88 217.62h5.75v5.75h-5.75zM1308.38 194.62h5.75v5.75h-5.75zM1308.38 217.62h5.75v5.75h-5.75zM1268.12 200.38h5.75v5.75h-5.75zM1314.12 200.38h5.75v5.75h-5.75zM1268.12 206.12h5.75v5.75h-5.75zM1314.12 206.12h5.75v5.75h-5.75zM1268.12 211.88h5.75v5.75h-5.75zM1314.12 211.88h5.75v5.75h-5.75zM1348.38 114.12h5.75v5.75h-5.75zM1348.38 160.12h5.75v5.75h-5.75zM1354.12 114.12h5.75v5.75h-5.75zM1354.12 160.12h5.75v5.75h-5.75zM1359.88 114.12h5.75v5.75h-5.75zM1359.88 160.12h5.75v5.75h-5.75zM1336.88 119.88h5.75v5.75h-5.75zM1336.88 154.38h5.75v5.75h-5.75zM1342.62 119.88h5.75v5.75h-5.75zM1342.62 154.38h5.75v5.75h-5.75zM1365.62 119.88h5.75v5.75h-5.75zM1365.62 154.38h5.75v5.75h-5.75zM1371.38 119.88h5.75v5.75h-5.75zM1371.38 154.38h5.75v5.75h-5.75zM1336.88 125.62h5.75v5.75h-5.75zM1336.88 148.62h5.75v5.75h-5.75zM1371.38 125.62h5.75v5.75h-5.75zM1371.38 148.62h5.75v5.75h-5.75zM1331.12 131.38h5.75v5.75h-5.75zM1377.12 131.38h5.75v5.75h-5.75zM1331.12 137.12h5.75v5.75h-5.75zM1377.12 137.12h5.75v5.75h-5.75zM1331.12 142.88h5.75v5.75h-5.75zM1377.12 142.88h5.75v5.75h-5.75zM1411.38 183.12h5.75v5.75h-5.75zM1411.38 229.12h5.75v5.75h-5.75zM1417.12 183.12h5.75v5.75h-5.75zM1417.12 229.12h5.75v5.75h-5.75zM1422.88 183.12h5.75v5.75h-5.75zM1422.88 229.12h5.75v5.75h-5.75zM1399.88 188.88h5.75v5.75h-5.75zM1399.88 223.38h5.75v5.75h-5.75zM1405.62 188.88h5.75v5.75h-5.75zM1405.62 223.38h5.75v5.75h-5.75zM1428.62 188.88h5.75v5.75h-5.75zM1428.62 223.38h5.75v5.75h-5.75zM1434.38 188.88h5.75v5.75h-5.75zM1434.38 223.38h5.75v5.75h-5.75zM1399.88 194.62h5.75v5.75h-5.75zM1399.88 217.62h5.75v5.75h-5.75zM1434.38 194.62h5.75v5.75h-5.75zM1434.38 217.62h5.75v5.75h-5.75zM1394.12 200.38h5.75v5.75h-5.75zM1440.12 200.38h5.75v5.75h-5.75zM1394.12 206.12h5.75v5.75h-5.75zM1440.12 206.12h5.75v5.75h-5.75zM1394.12 211.88h5.75v5.75h-5.75zM1440.12 211.88h5.75v5.75h-5.75zM1481.38 398.12h5.75v5.75h-5.75zM1481.38 444.12h5.75v5.75h-5.75zM1487.12 398.12h5.75v5.75h-5.75zM1487.12 444.12h5.75v5.75h-5.75zM1492.88 398.12h5.75v5.75h-5.75zM1492.88 444.12h5.75v5.75h-5.75zM1469.88 403.88h5.75v5.75h-5.75zM1469.88 438.38h5.75v5.75h-5.75zM1475.62 403.88h5.75v5.75h-5.75zM1475.62 438.38h5.75v5.75h-5.75zM1498.62 403.88h5.75v5.75h-5.75zM1498.62 438.38h5.75v5.75h-5.75zM1504.38 403.88h5.75v5.75h-5.75zM1504.38 438.38h5.75v5.75h-5.75zM1469.88 409.62h5.75v5.75h-5.75zM1469.88 432.62h5.75v5.75h-5.75zM1504.38 409.62h5.75v5.75h-5.75zM1504.38 432.62h5.75v5.75h-5.75zM1464.12 415.38h5.75v5.75h-5.75zM1510.12 415.38h5.75v5.75h-5.75zM1464.12 421.12h5.75v5.75h-5.75zM1510.12 421.12h5.75v5.75h-5.75zM1464.12 426.88h5.75v5.75h-5.75zM1510.12 426.88h5.75v5.75h-5.75zM1544.38 758.12h5.75v5.75h-5.75zM1544.38 804.12h5.75v5.75h-5.75zM1550.12 758.12h5.75v5.75h-5.75zM1550.12 804.12h5.75v5.75h-5.75zM1555.88 758.12h5.75v5.75h-5.75zM1555.88 804.12h5.75v5.75h-5.75zM1532.88 763.88h5.75v5.75h-5.75zM1532.88 798.38h5.75v5.75h-5.75zM1538.62 763.88h5.75v5.75h-5.75zM1538.62 798.38h5.75v5.75h-5.75zM1561.62 763.88h5.75v5.75h-5.75zM1561.62 798.38h5.75v5.75h-5.75zM1567.38 763.88h5.75v5.75h-5.75zM1567.38 798.38h5.75v5.75h-5.75zM1532.88 769.62h5.75v5.75h-5.75zM1532.88 792.62h5.75v5.75h-5.75zM1567.38 769.62h5.75v5.75h-5.75zM1567.38 792.62h5.75v5.75h-5.75zM1527.12 775.38h5.75v5.75h-5.75zM1573.12 775.38h5.75v5.75h-5.75zM1527.12 781.12h5.75v5.75h-5.75zM1573.12 781.12h5.75v5.75h-5.75zM1527.12 786.88h5.75v5.75h-5.75zM1573.12 786.88h5.75v5.75h-5.75z"/>
<path fill="#0000ff" d="M313 68h6v719h-6z"/>
<path fill="#000000" d="M313 68h1312v5h-1312zM313 781h1312v6h-1312z"/>
<path fill="#ff0000" d="M313.12 781.12h5.75v5.75h-5.75zM341.88 781.12h5.75v5.75h-5.75zM370.62 781.12h5.75v5.75h-5.75zM399.12 781.12h5.75v5.75h-5.75zM427.88 781.12h5.75v5.75h-5.75zM457.38 781.12h5.75v5.75h-5.75zM486.12 781.12h5.75v5.75h-5.75zM514.38 781.12h5.75v5.75h-5.75zM543.12 781.12h5.75v5.75h-5.75zM572.12 781.12h5.75v5.75h-5.75zM600.88 781.12h5.75v5.75h-5.75zM629.62 781.12h5.75v5.75h-5.75zM658.12 781.12h5.75v5.75h-5.75zM686.88 781.12h5.75v5.75h-5.75zM715.62 781.12h5.75v5.75h-5.75zM744.38 781.12h5.75v5.75h-5.75zM772.88 781.12h5.75v5.75h-5.75zM801.62 781.12h5.75v5.75h-5.75zM831.12 781.12h5.75v5.75h-5.75zM859.88 781.12h5.75v5.75h-5.75zM888.62 781.12h5.75v5.75h-5.75zM917.38 781.12h5.75v5.75h-5.75zM946.12 781.12h5.75v5.75h-5.75zM974.62 781.12h5.75v5.75h-5.75zM1003.38 781.12h5.75v5.75h-5.75zM1031.88 781.12h5.75v5.75h-5.75zM1060.62 781.12h5.75v5.75h-5.75zM1089.38 781.12h5.75v5.75h-5.75zM1118.12 781.12h5.75v5.75h-5.75zM1146.88 781.12h5.75v5.75h-5.75zM1176.38 781.12h5.75v5.75h-5.75zM1205.12 781.12h5.75v5.75h-5.75zM1233.62 781.12h5.75v5.75h-5.75zM1262.38 781.12h5.75v5.75h-5.75zM1291.12 781.12h5.75v5.75h-5.75zM1319.88 781.12h5.75v5.75h-5.75zM1348.62 781.12h5.75v5.75h-5.75zM1377.12 781.12h5.75v5.75h-5.75zM1405.88 781.12h5.75v5.75h-5.75zM1434.38 781.12h5.75v5.75h-5.75zM1463.12 781.12h5.75v5.75h-5.75zM1487.12 775.38h5.75v5.75h-5.75zM1492.88 746.62h5.75v5.75h-5.75zM1498.62 717.88h5.75v5.75h-5.75zM1504.38 689.12h5.75v5.75h-5.75zM1510.12 660.38h5.75v5.75h-5.75zM1515.88 631.62h5.75v5.75h-5.75zM1515.88 602.88h5.75v5.75h-5.75zM1521.62 574.12h5.75v5.75h-5.75zM1527.38 545.38h5.75v5.75h-5.75zM1533.12 516.62h5.75v5.75h-5.75zM1538.88 487.88h5.75v5.75h-5.75zM1544.62 459.12h5.75v5.75h-5.75zM1550.38 430.38h5.75v5.75h-5.75z"/>
<path fill="#ff0000" d="M313.12 758.12h5.75v5.75h-5.75zM313.12 763.88h5.75v5.75h-5.75zM313.12 769.62h5.75v5.75h-5.75zM313.12 775.38h5.75v5.75h-5.75zM313.12 781.12h5.75v5.75h-5.75zM313.12 786.88h5.75v5.75h-5.75zM313.12 792.62h5.75v5.75h-5.75zM313.12 798.38h5.75v5.75h-5.75zM313.12 804.12h5.75v5.75h-5.75zM290.12 781.12h5.75v5.75h-5.75zM295.88 781.12h5.75v5.75h-5.75zM301.62 781.12h5.75v5.75h-5.75zM307.38 781.12h5.75v5.75h-5.75zM318.88 781.12h5.75v5.75h-5.75zM324.62 781.12h5.75v5.75h-5.75zM330.38 781.12h5.75v5.75h-5.75zM336.12 781.12h5.75v5.75h-5.75zM307.38 775.38h5.75v5.75h-5.75zM307.38 786.88h5.75v5.75h-5.75zM318.88 775.38h5.75v5.75h-5.75zM318.88 786.88h5.75v5.75h-5.75zM301.62 769.62h5.75v5.75h-5.75zM324.62 769.62h5.75v5.75h-5.75zM301.62 792.62h5.75v5.75h-5.75zM324.62 792.62h5.75v5.75h-5.75zM376.12 758.12h5.75v5.75h-5.75zM376.12 763.88h5.75v5.75h-5.75zM376.12 769.62h5.75v5.75h-5.75zM376.12 775.38h5.75v5.75h-5.75zM376.12 781.12h5.75v5.75h-5.75zM376.12 786.88h5.75v5.75h-5.75zM376.12 792.62h5.75v5.75h-5.75zM376.12 798.38h5.75v5.75h-5.75zM376.12 804.12h5.75v5.75h-5.75zM353.12 781.12h5.75v5.75h-5.75zM358.88 781.12h5.75v5.75h-5.75zM364.62 781.12h5.75v5.75h-5.75zM370.38 781.12h5.75v5.75h-5.75zM381.88 781.12h5.75v5.75h-5.75zM387.62 781.12h5.75v5.75h-5.75zM393.38 781.12h5.75v5.75h-5.75zM399.12 781.12h5.75v5.75h-5.75zM370.38 775.38h5.75v5.75h-5.75zM370.38 786.88h5.75v5.75h-5.75zM381.88 775.38h5.75v5.75h-5.75zM381.88 786.88h5.75v5.75h-5.75zM364.62 769.62h5.75v5.75h-5.75zM387.62 769.62h5.75v5.75h-5.75zM364.62 792.62h5.75v5.75h-5.75zM387.62 792.62h5.75v5.75h-5.75zM440.12 758.12h5.75v5.75h-5.75zM440.12 763.88h5.75v5.75h-5.75zM440.12 769.62h5.75v5.75h-5.75zM440.12 775.38h5.75v5.75h-5.75zM440.12 781.12h5.75v5.75h-5.75zM440.12 786.88h5.75v5.75h-5.75zM440.12 792.62h5.75v5.75h-5.75zM440.12 798.38h5.75v5.75h-5.75zM440.12 804.12h5.75v5.75h-5.75zM417.12 781.12h5.75v5.75h-5.75zM422.88 781.12h5.75v5.75h-5.75zM428.62 781.12h5.75v5.75h-5.75zM434.38 781.12h5.75v5.75h-5.75zM445.88 781.12h5.75v5.75h-5.75zM451.62 781.12h5.75v5.75h-5.75zM457.38 781.12h5.75v5.75h-5.75zM463.12 781.12h5.75v5.75h-5.75zM434.38 775.38h5.75v5.75h-5.75zM434.38 786.88h5.75v5.75h-5.75zM445.88 775.38h5.75v5.75h-5.75zM445.88 786.88h5.75v5.75h-5.75zM428.62 769.62h5.75v5.75h-5.75zM451.62 769.62h5.75v5.75h-5.75zM428.62 792.62h5.75v5.75h-5.75zM451.62 792.62h5.75v5.75h-5.75zM508.62 758.12h5.75v5.75h-5.75zM508.62 763.88h5.75v5.75h-5.75zM508.62 769.62h5.75v5.75h-5.75zM508.62 775.38h5.75v5.75h-5.75zM508.62 781.12h5.75v5.75h-5.75zM508.62 786.88h5.75v5.75h-5.75zM508.62 792.62h5.75v5.75h-5.75zM508.62 798.38h5.75v5.75h-5.75zM508.62 804.12h5.75v5.75h-5.75zM485.62 781.12h5.75v5.75h-5.75zM491.38 781.12h5.75v5.75h-5.75zM497.12 781.12h5.75v5.75h-5.75zM502.88 781.12h5.75v5.75h-5.75zM514.38 781.12h5.75v5.75h-5.75zM520.12 781.12h5.75v5.75h-5.75zM525.88 781.12h5.75v5.75h-5.75zM531.62 781.12h5.75v5.75h-5.75zM502.88 775.38h5.75v5.75h-5.75zM502.88 786.88h5.75v5.75h-5.75zM514.38 775.38h5.75v5.75h-5.75zM514.38 786.88h5.75v5.75h-5.75zM497.12 769.62h5.75v5.75h-5.75zM520.12 769.62h5.75v5.75h-5.75zM497.12 792.62h5.75v5.75h-5.75zM520.12 792.62h5.75v5.75h-5.75zM572.12 758.12h5.75v5.75h-5.75zM572.12 763.88h5.75v5.75h-5.75zM572.12 769.62h5.75v5.75h-5.75zM572.12 775.38h5.75v5.75h-5.75zM572.12 781.12h5.75v5.75h-5.75zM572.12 786.88h5.75v5.75h-5.75zM572.12 792.62h5.75v5.75h-5.75zM572.12 798.38h5.75v5.75h-5.75zM572.12 804.12h5.75v5.75h-5.75zM549.12 781.12h5.75v5.75h-5.75zM554.88 781.12h5.75v5.75h-5.75zM560.62 781.12h5.75v5.75h-5.75zM566.38 781.12h5.75v5.75h-5.75zM577.88 781.12h5.75v5.75h-5.75zM583.62 781.12h5.75v5.75h-5.75zM589.38 781.12h5.75v5.75h-5.75zM595.12 781.12h5.75v5.75h-5.75zM566.38 775.38h5.75v5.75h-5.75zM566.38 786.88h5.75v5.75h-5.75zM577.88 775.38h5.75v5.75h-5.75zM577.88 786.88h5.75v5.75h-5.75zM560.62 769.62h5.75v5.75h-5.75zM583.62 769.62h5.75v5.75h-5.75zM560.62 792.62h5.75v5.75h-5.75zM583.62 792.62h5.75v5.75h-5.75zM635.12 758.12h5.75v5.75h-5.75zM635.12 763.88h5.75v5.75h-5.75zM635.12 769.62h5.75v5.75h-5.75zM635.12 775.38h5.75v5.75h-5.75zM635.12 781.12h5.75v5.75h-5.75zM635.12 786.88h5.75v5.75h-5.75zM635.12 792.62h5.75v5.75h-5.75zM635.12 798.38h5.75v5.75h-5.75zM635.12 804.12h5.75v5.75h-5.75zM612.12 781.12h5.75v5.75h-5.75zM617.88 781.12h5.75v5.75h-5.75zM623.62 781.12h5.75v5.75h-5.75zM629.38 781.12h5.75v5.75h-5.75zM640.88 781.12h5.75v5.75h-5.75zM646.62 781.12h5.75v5.75h-5.75zM652.38 781.12h5.75v5.75h-5.75zM658.12 781.12h5.75v5.75h-5.75zM629.38 775.38h5.75v5.75h-5.75zM629.38 786.88h5.75v5.75h-5.75zM640.88 775.38h5.75v5.75h-5.75zM640.88 786.88h5.75v5.75h-5.75zM623.62 769.62h5.75v5.75h-5.75zM646.62 769.62h5.75v5.75h-5.75zM623.62 792.62h5.75v5.75h-5.75zM646.62 792.62h5.75v5.75h-5.75zM704.12 758.12h5.75v5.75h-5.75zM704.12 763.88h5.75v5.75h-5.75zM704.12 769.62h5.75v5.75h-5.75zM704.12 775.38h5.75v5.75h-5.75zM704.12 781.12h5.75v5.75h-5.75zM704.12 786.88h5.75v5.75h-5.75zM704.12 792.62h5.75v5.75h-5.75zM704.12 798.38h5.75v5.75h-5.75zM704.12 804.12h5.75v5.75h-5.75zM681.12 781.12h5.75v5.75h-5.75zM686.88 781.12h5.75v5.75h-5.75zM692.62 781.12h5.75v5.75h-5.75zM698.38 781.12h5.75v5.75h-5.75zM709.88 781.12h5.75v5.75h-5.75zM715.62 781.12h5.75v5.75h-5.75zM721.38 781.12h5.75v5.75h-5.75zM727.12 781.12h5.75v5.75h-5.75zM698.38 775.38h5.75v5.75h-5.75zM698.38 786.88h5.75v5.75h-5.75zM709.88 775.38h5.75v5.75h-5.75zM709.88 786.88h5.75v5.75h-5.75zM692.62 769.62h5.75v5.75h-5.75zM715.62 769.62h5.75v5.75h-5.75zM692.62 792.62h5.75v5.75h-5.75zM715.62 792.62h5.75v5.75h-5.75zM767.12 758.12h5.75v5.75h-5.75zM767.12 763.88h5.75v5.75h-5.75zM767.12 769.62h5.75v5.75h-5.75zM767.12 775.38h5.75v5.75h-5.75zM767.12 781.12h5.75v5.75h-5.75zM767.12 786.88h5.75v5.75h-5.75zM767.12 792.62h5.75v5.75h-5.75zM767.12 798.38h5.75v5.75h-5.75zM767.12 804.12h5.75v5.75h-5.75zM744.12 781.12h5.75v5.75h-5.75zM749.88 781.12h5.75v5.75h-5.75zM755.62 781.12h5.75v5.75h-5.75zM761.38 781.12h5.75v5.75h-5.75zM772.88 781.12h5.75v5.75h-5.75zM778.62 781.12h5.75v5.75h-5.75zM784.38 781.12h5.75v5.75h-5.75zM790.12 781.12h5.75v5.75h-5.75zM761.38 775.38h5.75v5.75h-5.75zM761.38 786.88h5.75v5.75h-5.75zM772.88 775.38h5.75v5.75h-5.75zM772.88 786.88h5.75v5.75h-5.75zM755.62 769.62h5.75v5.75h-5.75zM778.62 769.62h5.75v5.75h-5.75zM755.62 792.62h5.75v5.75h-5.75zM778.62 792.62h5.75v5.75h-5.75zM831.12 758.12h5.75v5.75h-5.75zM831.12 763.88h5.75v5.75h-5.75zM831.12 769.62h5.75v5.75h-5.75zM831.12 775.38h5.75v5.75h-5.75zM831.12 781.12h5.75v5.75h-5.75zM831.12 786.88h5.75v5.75h-5.75zM831.12 792.62h5.75v5.75h-5.75zM831.12 798.38h5.75v5.75h-5.75zM831.12 804.12h5.75v5.75h-5.75zM808.12 781.12h5.75v5.75h-5.75zM813.88 781.12h5.75v5.75h-5.75zM819.62 781.12h5.75v5.75h-5.75zM825.38 781.12h5.75v5.75h-5.75zM836.88 781.12h5.75v5.75h-5.75zM842.62 781.12h5.75v5.75h-5.75zM848.38 781.12h5.75v5.75h-5.75zM854.12 781.12h5.75v5.75h-5.75zM825.38 775.38h5.75v5.75h-5.75zM825.38 786.88h5.75v5.75h-5.75zM836.88 775.38h5.75v5.75h-5.75zM836.88 786.88h5.75v5.75h-5.75zM819.62 769.62h5.75v5.75h-5.75zM842.62 769.62h5.75v5.75h-5.75zM819.62 792.62h5.75v5.75h-5.75zM842.62 792.62h5.75v5.75h-5.75zM900.12 758.12h5.75v5.75h-5.75zM900.12 763.88h5.75v5.75h-5.75zM900.12 769.62h5.75v5.75h-5.75zM900.12 775.38h5.75v5.75h-5.75zM900.12 781.12h5.75v5.75h-5.75zM900.12 786.88h5.75v5.75h-5.75zM900.12 792.62h5.75v5.75h-5.75zM900.12 798.38h5.75v5.75h-5.75zM900.12 804.12h5.75v5.75h-5.75zM877.12 781.12h5.75v5.75h-5.75zM882.88 781.12h5.75v5.75h-5.75zM888.62 781.12h5.75v5.75h-5.75zM894.38 781.12h5.75v5.75h-5.75zM905.88 781.12h5.75v5.75h-5.75zM911.62 781.12h5.75v5.75h-5.75zM917.38 781.12h5.75v5.75h-5.75zM923.12 781.12h5.75v5.75h-5.75zM894.38 775.38h5.75v5.75h-5.75zM894.38 786.88h5.75v5.75h-5.75zM905.88 775.38h5.75v5.75h-5.75zM905.88 786.88h5.75v5.75h-5.75zM888.62 769.62h5.75v5.75h-5.75zM911.62 769.62h5.75v5.75h-5.75zM888.62 792.62h5.75v5.75h-5.75zM911.62 792.62h5.75v5.75h-5.75zM963.12 758.12h5.75v5.75h-5.75zM963.12 763.88h5.75v5.75h-5.75zM963.12 769.62h5.75v5.75h-5.75zM963.12 775.38h5.75v5.75h-5.75zM963.12 781.12h5.75v5.75h-5.75zM963.12 786.88h5.75v5.75h-5.75zM963.12 792.62h5.75v5.75h-5.75zM963.12 798.38h5.75v5.75h-5.75zM963.12 804.12h5.75v5.75h-5.75zM940.12 781.12h5.75v5.75h-5.75zM945.88 781.12h5.75v5.75h-5.75zM951.62 781.12h5.75v5.75h-5.75zM957.38 781.12h5.75v5.75h-5.75zM968.88 781.12h5.75v5.75h-5.75zM974.62 781.12h5.75v5.75h-5.75zM980.38 781.12h5.75v5.75h-5.75zM986.12 781.12h5.75v5.75h-5.75zM957.38 775.38h5.75v5.75h-5.75zM957.38 786.88h5.75v5.75h-5.75zM968.88 775.38h5.75v5.75h-5.75zM968.88 786.88h5.75v5.75h-5.75zM951.62 769.62h5.75v5.75h-5.75zM974.62 769.62h5.75v5.75h-5.75zM951.62 792.62h5.75v5.75h-5.75zM974.62 792.62h5.75v5.75h-5.75zM1026.12 758.12h5.75v5.75h-5.75zM1026.12 763.88h5.75v5.75h-5.75zM1026.12 769.62h5.75v5.75h-5.75zM1026.12 775.38h5.75v5.75h-5.75zM1026.12 781.12h5.75v5.75h-5.75zM1026.12 786.88h5.75v5.75h-5.75zM1026.12 792.62h5.75v5.75h-5.75zM1026.12 798.38h5.75v5.75h-5.75zM1026.12 804.12h5.75v5.75h-5.75zM1003.12 781.12h5.75v5.75h-5.75zM1008.88 781.12h5.75v5.75h-5.75zM1014.62 781.12h5.75v5.75h-5.75zM1020.38 781.12h5.75v5.75h-5.75zM1031.88 781.12h5.75v5.75h-5.75zM1037.62 781.12h5.75v5.75h-5.75zM1043.38 781.12h5.75v5.75h-5.75zM1049.12 781.12h5.75v5.75h-5.75zM1020.38 775.38h5.75v5.75h-5.75zM1020.38 786.88h5.75v5.75h-5.75zM1031.88 775.38h5.75v5.75h-5.75zM1031.88 786.88h5.75v5.75h-5.75zM1014.62 769.62h5.75v5.75h-5.75zM1037.62 769.62h5.75v5.75h-5.75zM1014.62 792.62h5.75v5.75h-5.75zM1037.62 792.62h5.75v5.75h-5.75zM1095.12 758.12h5.75v5.75h-5.75zM1095.12 763.88h5.75v5.75h-5.75zM1095.12 769.62h5.75v5.75h-5.75zM1095.12 775.38h5.75v5.75h-5.75zM1095.12 781.12h5.75v5.75h-5.75zM1095.12 786.88h5.75v5.75h-5.75zM1095.12 792.62h5.75v5.75h-5.75zM1095.12 798.38h5.75v5.75h-5.75zM1095.12 804.12h5.75v5.75h-5.75zM1072.12 781.12h5.75v5.75h-5.75zM1077.88 781.12h5.75v5.75h-5.75zM1083.62 781.12h5.75v5.75h-5.75zM1089.38 781.12h5.75v5.75h-5.75zM1100.88 781.12h5.75v5.75h-5.75zM1106.62 781.12h5.75v5.75h-5.75zM1112.38 781.12h5.75v5.75h-5.75zM1118.12 781.12h5.75v5.75h-5.75zM1089.38 775.38h5.75v5.75h-5.75zM1089.38 786.88h5.75v5.75h-5.75zM1100.88 775.38h5.75v5.75h-5.75zM1100.88 786.88h5.75v5.75h-5.75zM1083.62 769.62h5.75v5.75h-5.75zM1106.62 769.62h5.75v5.75h-5.75zM1083.62 792.62h5.75v5.75h-5.75zM1106.62 792.62h5.75v5.75h-5.75zM1159.12 758.12h5.75v5.75h-5.75zM1159.12 763.88h5.75v5.75h-5.75zM1159.12 769.62h5.75v5.75h-5.75zM1159.12 775.38h5.75v5.75h-5.75zM1159.12 781.12h5.75v5.75h-5.75zM1159.12 786.88h5.75v5.75h-5.75zM1159.12 792.62h5.75v5.75h-5.75zM1159.12 798.38h5.75v5.75h-5.75zM1159.12 804.12h5.75v5.75h-5.75zM1136.12 781.12h5.75v5.75h-5.75zM1141.88 781.12h5.75v5.75h-5.75zM1147.62 781.12h5.75v5.75h-5.75zM1153.38 781.12h5.75v5.75h-5.75zM1164.88 781.12h5.75v5.75h-5.75zM1170.62 781.12h5.75v5.75h-5.75zM1176.38 781.12h5.75v5.75h-5.75zM1182.12 781.12h5.75v5.75h-5.75zM1153.38 775.38h5.75v5.75h-5.75zM1153.38 786.88h5.75v5.75h-5.75zM1164.88 775.38h5.75v5.75h-5.75zM1164.88 786.88h5.75v5.75h-5.75zM1147.62 769.62h5.75v5.75h-5.75zM1170.62 769.62h5.75v5.75h-5.75zM1147.62 792.62h5.75v5.75h-5.75zM1170.62 792.62h5.75v5.75h-5.75zM1222.12 758.12h5.75v5.75h-5.75zM1222.12 763.88h5.75v5.75h-5.75zM1222.12 769.62h5.75v5.75h-5.75zM1222.12 775.38h5.75v5.75h-5.75zM1222.12 781.12h5.75v5.75h-5.75zM1222.12 786.88h5.75v5.75h-5.75zM1222.12 792.62h5.75v5.75h-5.75zM1222.12 798.38h5.75v5.75h-5.75zM1222.12 804.12h5.75v5.75h-5.75zM1199.12 781.12h5.75v5.75h-5.75zM1204.88 781.12h5.75v5.75h-5.75zM1210.62 781.12h5.75v5.75h-5.75zM1216.38 781.12h5.75v5.75h-5.75zM1227.88 781.12h5.75v5.75h-5.75zM1233.62 781.12h5.75v5.75h-5.75zM1239.38 781.12h5.75v5.75h-5.75zM1245.12 781.12h5.75v5.75h-5.75zM1216.38 775.38h5.75v5.75h-5.75zM1216.38 786.88h5.75v5.75h-5.75zM1227.88 775.38h5.75v5.75h-5.75zM1227.88 786.88h5.75v5.75h-5.75zM1210.62 769.62h5.75v5.75h-5.75zM1233.62 769.62h5.75v5.75h-5.75zM1210.62 792.62h5.75v5.75h-5.75zM1233.62 792.62h5.75v5.75h-5.75zM1291.12 758.12h5.75v5.75h-5.75zM1291.12 763.88h5.75v5.75h-5.75zM1291.12 769.62h5.75v5.75h-5.75zM1291.12 775.38h5.75v5.75h-5.75zM1291.12 781.12h5.75v5.75h-5.75zM1291.12 786.88h5.75v5.75h-5.75zM1291.12 792.62h5.75v5.75h-5.75zM1291.12 798.38h5.75v5.75h-5.75zM1291.12 804.12h5.75v5.75h-5.75zM1268.12 781.12h5.75v5.75h-5.75zM1273.88 781.12h5.75v5.75h-5.75zM1279.62 781.12h5.75v5.75h-5.75zM1285.38 781.12h5.75v5.75h-5.75zM1296.88 781.12h5.75v5.75h-5.75zM1302.62 781.12h5.75v5.75h-5.75zM1308.38 781.12h5.75v5.75h-5.75zM1314.12 781.12h5.75v5.75h-5.75zM1285.38 775.38h5.75v5.75h-5.75zM1285.38 786.88h5.75v5.75h-5.75zM1296.88 775.38h5.75v5.75h-5.75zM1296.88 786.88h5.75v5.75h-5.75zM1279.62 769.62h5.75v5.75h-5.75zM1302.62 769.62h5.75v5.75h-5.75zM1279.62 792.62h5.75v5.75h-5.75zM1302.62 792.62h5.75v5.75h-5.75zM1354.12 758.12h5.75v5.75h-5.75zM1354.12 763.88h5.75v5.75h-5.75zM1354.12 769.62h5.75v5.75h-5.75zM1354.12 775.38h5.75v5.75h-5.75zM1354.12 781.12h5.75v5.75h-5.75zM1354.12 786.88h5.75v5.75h-5.75zM1354.12 792.62h5.75v5.75h-5.75zM1354.12 798.38h5.75v5.75h-5.75zM1354.12 804.12h5.75v5.75h-5.75zM1331.12 781.12h5.75v5.75h-5.75zM1336.88 781.12h5.75v5.75h-5.75zM1342.62 781.12h5.75v5.75h-5.75zM1348.38 781.12h5.75v5.75h-5.75zM1359.88 781.12h5.75v5.75h-5.75zM1365.62 781.12h5.75v5.75h-5.75zM1371.38 781.12h5.75v5.75h-5.75zM1377.12 781.12h5.75v5.75h-5.75zM1348.38 775.38h5.75v5.75h-5.75zM1348.38 786.88h5.75v5.75h-5.75zM1359.88 775.38h5.75v5.75h-5.75zM1359.88 786.88h5.75v5.75h-5.75zM1342.62 769.62h5.75v5.75h-5.75zM1365.62 769.62h5.75v5.75h-5.75zM1342.62 792.62h5.75v5.75h-5.75zM1365.62 792.62h5.75v5.75h-5.75zM1417.12 758.12h5.75v5.75h-5.75zM1417.12 763.88h5.75v5.75h-5.75zM1417.12 769.62h5.75v5.75h-5.75zM1417.12 775.38h5.75v5.75h-5.75zM1417.12 781.12h5.75v5.75h-5.75zM1417.12 786.88h5.75v5.75h-5.75zM1417.12 792.62h5.75v5.75h-5.75zM1417.12 798.38h5.75v5.75h-5.75zM1417.12 804.12h5.75v5.75h-5.75zM1394.12 781.12h5.75v5.75h-5.75zM1399.88 781.12h5.75v5.75h-5.75zM1405.62 781.12h5.75v5.75h-5.75zM1411.38 781.12h5.75v5.75h-5.75zM1422.88 781.12h5.75v5.75h-5.75zM1428.62 781.12h5.75v5.75h-5.75zM1434.38 781.12h5.75v5.75h-5.75zM1440.12 781.12h5.75v5.75h-5.75zM1411.38 775.38h5.75v5.75h-5.75zM1411.38 786.88h5.75v5.75h-5.75zM1422.88 775.38h5.75v5.75h-5.75zM1422.88 786.88h5.75v5.75h-5.75zM1405.62 769.62h5.75v5.75h-5.75zM1428.62 769.62h5.75v5.75h-5.75zM1405.62 792.62h5.75v5.75h-5.75zM1428.62 792.62h5.75v5.75h-5.75zM1487.12 758.12h5.75v5.75h-5.75zM1487.12 763.88h5.75v5.75h-5.75zM1487.12 769.62h5.75v5.75h-5.75zM1487.12 775.38h5.75v5.75h-5.75zM1487.12 781.12h5.75v5.75h-5.75zM1487.12 786.88h5.75v5.75h-5.75zM1487.12 792.62h5.75v5.75h-5.75zM1487.12 798.38h5.75v5.75h-5.75zM1487.12 804.12h5.75v5.75h-5.75zM1464.12 781.12h5.75v5.75h-5.75zM1469.88 781.12h5.75v5.75h-5.75zM1475.62 781.12h5.75v5.75h-5.75zM1481.38 781.12h5.75v5.75h-5.75zM1492.88 781.12h5.75v5.75h-5.75zM1498.62 781.12h5.75v5.75h-5.75zM1504.38 781.12h5.75v5.75h-5.75zM1510.12 781.12h5.75v5.75h-5.75zM1481.38 775.38h5.75v5.75h-5.75zM1481.38 786.88h5.75v5.75h-5.75zM1492.88 775.38h5.75v5.75h-5.75zM1492.88 786.88h5.75v5.75h-5.75zM1475.62 769.62h5.75v5.75h-5.75zM1498.62 769.62h5.75v5.75h-5.75zM1475.62 792.62h5.75v5.75h-5.75zM1498.62 792.62h5.75v5.75h-5.75zM1549.62 401.12h5.75v5.75h-5.75zM1549.62 406.88h5.75v5.75h-5.75zM1549.62 412.62h5.75v5.75h-5.75zM1549.62 418.38h5.75v5.75h-5.75zM1549.62 424.12h5.75v5.75h-5.75zM1549.62 429.88h5.75v5.75h-5.75zM1549.62 435.62h5.75v5.75h-5.75zM1549.62 441.38h5.75v5.75h-5.75zM1549.62 447.12h5.75v5.75h-5.75zM1526.62 424.12h5.75v5.75h-5.75zM1532.38 424.12h5.75v5.75h-5.75zM1538.12 424.12h5.75v5.75h-5.75zM1543.88 424.12h5.75v5.75h-5.75zM1555.38 424.12h5.75v5.75h-5.75zM1561.12 424.12h5.75v5.75h-5.75zM1566.88 424.12h5.75v5.75h-5.75zM1572.62 424.12h5.75v5.75h-5.75zM1543.88 418.38h5.75v5.75h-5.75zM1543.88 429.88h5.75v5.75h-5.75zM1555.38 418.38h5.75v5.75h-5.75zM1555.38 429.88h5.75v5.75h-5.75zM1538.12 412.62h5.75v5.75h-5.75zM1561.12 412.62h5.75v5.75h-5.75zM1538.12 435.62h5.75v5.75h-5.75zM1561.12 435.62h5.75v5.75h-5.75z"/>
<path fill="#ff0000" d="M1619 68h6v719h-6zM1602 68h23v5h-23zM1603 424h16v6h-16z"/>
<path fill="#000000" d="M353.12 942.12h5.75v5.75h-5.75zM353.12 970.88h5.75v5.75h-5.75zM353.12 999.62h5.75v5.75h-5.75zM353.12 1028.38h5.75v5.75h-5.75zM353.12 1057.12h5.75v5.75h-5.75zM353.12 1085.88h5.75v5.75h-5.75zM353.12 1114.62h5.75v5.75h-5.75zM353.12 1143.38h5.75v5.75h-5.75zM353.12 1172.12h5.75v5.75h-5.75zM353.12 1200.88h5.75v5.75h-5.75zM353.12 1229.62h5.75v5.75h-5.75zM353.12 1258.38h5.75v5.75h-5.75zM353.12 1287.12h5.75v5.75h-5.75zM353.12 1315.88h5.75v5.75h-5.75zM353.12 1344.62h5.75v5.75h-5.75zM353.12 1373.38h5.75v5.75h-5.75zM353.12 1402.12h5.75v5.75h-5.75zM353.12 1430.88h5.75v5.75h-5.75zM353.12 1459.62h5.75v5.75h-5.75zM353.12 1488.38h5.75v5.75h-5.75zM353.12 1517.12h5.75v5.75h-5.75zM353.12 1545.88h5.75v5.75h-5.75zM353 942h6v11.5h-6zM353 1557.75h6v17.25h-6zM687.12 947.38h5.75v5.75h-5.75zM687.12 976.12h5.75v5.75h-5.75zM687.12 1004.88h5.75v5.75h-5.75zM687.12 1033.62h5.75v5.75h-5.75zM687.12 1062.38h5.75v5.75h-5.75zM687.12 1091.12h5.75v5.75h-5.75zM687.12 1119.88h5.75v5.75h-5.75zM687.12 1148.62h5.75v5.75h-5.75zM687.12 1177.38h5.75v5.75h-5.75zM687.12 1206.12h5.75v5.75h-5.75zM687.12 1234.88h5.75v5.75h-5.75zM687.12 1263.62h5.75v5.75h-5.75zM687.12 1292.38h5.75v5.75h-5.75zM687.12 1321.12h5.75v5.75h-5.75zM687.12 1349.88h5.75v5.75h-5.75zM687.12 1378.62h5.75v5.75h-5.75zM687.12 1407.38h5.75v5.75h-5.75zM687.12 1436.12h5.75v5.75h-5.75zM687.12 1464.88h5.75v5.75h-5.75zM687.12 1493.62h5.75v5.75h-5.75zM687.12 1522.38h5.75v5.75h-5.75zM687.12 1551.12h5.75v5.75h-5.75zM687 942h6v11.5h-6zM687 1557.75h6v17.25h-6zM1020.62 953.38h5.75v5.75h-5.75zM1020.62 982.12h5.75v5.75h-5.75zM1020.62 1010.88h5.75v5.75h-5.75zM1020.62 1039.62h5.75v5.75h-5.75zM1020.62 1068.38h5.75v5.75h-5.75zM1020.62 1097.12h5.75v5.75h-5.75zM1020.62 1125.88h5.75v5.75h-5.75zM1020.62 1154.62h5.75v5.75h-5.75zM1020.62 1183.38h5.75v5.75h-5.75zM1020.62 1212.12h5.75v5.75h-5.75zM1020.62 1240.88h5.75v5.75h-5.75zM1020.62 1269.62h5.75v5.75h-5.75zM1020.62 1298.38h5.75v5.75h-5.75zM1020.62 1327.12h5.75v5.75h-5.75zM1020.62 1355.88h5.75v5.75h-5.75zM1020.62 1384.62h5.75v5.75h-5.75zM1020.62 1413.38h5.75v5.75h-5.75zM1020.62 1442.12h5.75v5.75h-5.75zM1020.62 1470.88h5.75v5.75h-5.75zM1020.62 1499.62h5.75v5.75h-5.75zM1020.62 1528.38h5.75v5.75h-5.75zM1020.62 1557.12h5.75v5.75h-5.75zM1020.5 942h6v11.5h-6zM1020.5 1557.75h6v17.25h-6zM1354.12 959.27h5.75v5.75h-5.75zM1354.12 988.02h5.75v5.75h-5.75zM1354.12 1016.77h5.75v5.75h-5.75zM1354.12 1045.53h5.75v5.75h-5.75zM1354.12 1074.28h5.75v5.75h-5.75zM1354.12 1103.03h5.75v5.75h-5.75zM1354.12 1131.78h5.75v5.75h-5.75zM1354.12 1160.53h5.75v5.75h-5.75zM1354.12 1189.28h5.75v5.75h-5.75zM1354.12 1218.03h5.75v5.75h-5.75zM1354.12 1246.78h5.75v5.75h-5.75zM1354.12 1275.53h5.75v5.75h-5.75zM1354.12 1304.28h5.75v5.75h-5.75zM1354.12 1333.03h5.75v5.75h-5.75zM1354.12 1361.78h5.75v5.75h-5.75zM1354.12 1390.53h5.75v5.75h-5.75zM1354.12 1419.28h5.75v5.75h-5.75zM1354.12 1448.03h5.75v5.75h-5.75zM1354.12 1476.78h5.75v5.75h-5.75zM1354.12 1505.53h5.75v5.75h-5.75zM1354.12 1534.28h5.75v5.75h-5.75zM1354.12 1563.03h5.75v5.75h-5.75zM1354 942h6v11.5h-6zM1354 1557.75h6v17.25h-6zM301.43 1149.12h5.75v5.75h-5.75zM330.18 1149.12h5.75v5.75h-5.75zM358.93 1149.12h5.75v5.75h-5.75zM387.68 1149.12h5.75v5.75h-5.75zM416.43 1149.12h5.75v5.75h-5.75zM445.18 1149.12h5.75v5.75h-5.75zM473.93 1149.12h5.75v5.75h-5.75zM502.68 1149.12h5.75v5.75h-5.75zM531.42 1149.12h5.75v5.75h-5.75zM560.17 1149.12h5.75v5.75h-5.75zM588.92 1149.12h5.75v5.75h-5.75zM617.67 1149.12h5.75v5.75h-5.75zM646.42 1149.12h5.75v5.75h-5.75zM675.17 1149.12h5.75v5.75h-5.75zM703.92 1149.12h5.75v5.75h-5.75zM732.67 1149.12h5.75v5.75h-5.75zM761.42 1149.12h5.75v5.75h-5.75zM790.17 1149.12h5.75v5.75h-5.75zM818.92 1149.12h5.75v5.75h-5.75zM847.67 1149.12h5.75v5.75h-5.75zM876.42 1149.12h5.75v5.75h-5.75zM905.17 1149.12h5.75v5.75h-5.75zM933.92 1149.12h5.75v5.75h-5.75zM962.67 1149.12h5.75v5.75h-5.75zM991.42 1149.12h5.75v5.75h-5.75zM1020.17 1149.12h5.75v5.75h-5.75zM1048.92 1149.12h5.75v5.75h-5.75zM1077.67 1149.12h5.75v5.75h-5.75zM1106.42 1149.12h5.75v5.75h-5.75zM1135.17 1149.12h5.75v5.75h-5.75zM1163.92 1149.12h5.75v5.75h-5.75zM1192.67 1149.12h5.75v5.75h-5.75zM1221.42 1149.12h5.75v5.75h-5.75zM1250.17 1149.12h5.75v5.75h-5.75zM1278.92 1149.12h5.75v5.75h-5.75zM1307.67 1149.12h5.75v5.75h-5.75zM1336.42 1149.12h5.75v5.75h-5.75zM1365.17 1149.12h5.75v5.75h-5.75zM1393.92 1149.12h5.75v5.75h-5.75zM1422.67 1149.12h5.75v5.75h-5.75zM1451.42 1149.12h5.75v5.75h-5.75zM1480.17 1149.12h5.75v5.75h-5.75zM1508.92 1149.12h5.75v5.75h-5.75zM1537.67 1149.12h5.75v5.75h-5.75zM1566.42 1149.12h5.75v5.75h-5.75zM1595.17 1149.12h5.75v5.75h-5.75zM313.38 1362.12h5.75v5.75h-5.75zM342.12 1362.12h5.75v5.75h-5.75zM370.88 1362.12h5.75v5.75h-5.75zM399.62 1362.12h5.75v5.75h-5.75zM428.38 1362.12h5.75v5.75h-5.75zM457.12 1362.12h5.75v5.75h-5.75zM485.88 1362.12h5.75v5.75h-5.75zM514.62 1362.12h5.75v5.75h-5.75zM543.38 1362.12h5.75v5.75h-5.75zM572.12 1362.12h5.75v5.75h-5.75zM600.88 1362.12h5.75v5.75h-5.75zM629.62 1362.12h5.75v5.75h-5.75zM658.38 1362.12h5.75v5.75h-5.75zM687.12 1362.12h5.75v5.75h-5.75zM715.88 1362.12h5.75v5.75h-5.75zM744.62 1362.12h5.75v5.75h-5.75zM773.38 1362.12h5.75v5.75h-5.75zM802.12 1362.12h5.75v5.75h-5.75zM830.88 1362.12h5.75v5.75h-5.75zM859.62 1362.12h5.75v5.75h-5.75zM888.38 1362.12h5.75v5.75h-5.75zM917.12 1362.12h5.75v5.75h-5.75zM945.88 1362.12h5.75v5.75h-5.75zM974.62 1362.12h5.75v5.75h-5.75zM1003.38 1362.12h5.75v5.75h-5.75zM1032.12 1362.12h5.75v5.75h-5.75zM1060.88 1362.12h5.75v5.75h-5.75zM1089.62 1362.12h5.75v5.75h-5.75zM1118.38 1362.12h5.75v5.75h-5.75zM1147.12 1362.12h5.75v5.75h-5.75zM1175.88 1362.12h5.75v5.75h-5.75zM1204.62 1362.12h5.75v5.75h-5.75zM1233.38 1362.12h5.75v5.75h-5.75zM1262.12 1362.12h5.75v5.75h-5.75zM1290.88 1362.12h5.75v5.75h-5.75zM1319.62 1362.12h5.75v5.75h-5.75zM1348.38 1362.12h5.75v5.75h-5.75zM1377.12 1362.12h5.75v5.75h-5.75zM1405.88 1362.12h5.75v5.75h-5.75zM1434.62 1362.12h5.75v5.75h-5.75zM1463.38 1362.12h5.75v5.75h-5.75zM1492.12 1362.12h5.75v5.75h-5.75zM1520.88 1362.12h5.75v5.75h-5.75zM1549.62 1362.12h5.75v5.75h-5.75zM1578.38 1362.12h5.75v5.75h-5.75zM296 1149h11.5v6h-11.5zM296 1362h11.5v6h-11.5z"/>
<path fill="#000000" d="M290.12 1528.62h5.75v5.75h-5.75zM313.12 1499.88h5.75v5.75h-5.75zM313.12 1494.12h5.75v5.75h-5.75zM318.88 1488.38h5.75v5.75h-5.75zM324.62 1482.62h5.75v5.75h-5.75zM330.38 1476.88h5.75v5.75h-5.75zM330.38 1471.12h5.75v5.75h-5.75zM336.12 1465.38h5.75v5.75h-5.75zM341.88 1459.62h5.75v5.75h-5.75zM341.88 1453.88h5.75v5.75h-5.75zM347.62 1448.12h5.75v5.75h-5.75zM376.12 1442.62h5.75v5.75h-5.75zM381.88 1442.62h5.75v5.75h-5.75zM387.62 1442.62h5.75v5.75h-5.75zM393.38 1442.62h5.75v5.75h-5.75zM399.12 1442.62h5.75v5.75h-5.75zM404.88 1442.62h5.75v5.75h-5.75zM410.62 1442.62h5.75v5.75h-5.75zM416.38 1442.62h5.75v5.75h-5.75zM422.12 1442.62h5.75v5.75h-5.75zM427.88 1436.88h5.75v5.75h-5.75zM439.38 1408.12h5.75v5.75h-5.75zM445.12 1402.38h5.75v5.75h-5.75zM445.12 1396.62h5.75v5.75h-5.75zM450.88 1390.88h5.75v5.75h-5.75zM450.88 1385.12h5.75v5.75h-5.75zM456.62 1379.38h5.75v5.75h-5.75zM456.62 1373.62h5.75v5.75h-5.75zM462.38 1367.88h5.75v5.75h-5.75zM462.38 1362.12h5.75v5.75h-5.75zM468.12 1356.38h5.75v5.75h-5.75zM479.62 1327.62h5.75v5.75h-5.75zM485.38 1321.88h5.75v5.75h-5.75zM485.38 1315.53h5.75v5.75h-5.75zM491.57 1309.78h5.75v5.75h-5.75zM497.32 1309.78h5.75v5.75h-5.75zM503.07 1304.03h5.75v5.75h-5.75zM508.82 1304.03h5.75v5.75h-5.75zM514.58 1298.28h5.75v5.75h-5.75zM520.33 1298.28h5.75v5.75h-5.75zM526.08 1292.53h5.75v5.75h-5.75zM554.42 1275.28h5.75v5.75h-5.75zM560.17 1269.88h5.75v5.75h-5.75zM565.92 1269.88h5.75v5.75h-5.75zM571.67 1264.12h5.75v5.75h-5.75zM577.42 1258.38h5.75v5.75h-5.75zM583.17 1258.38h5.75v5.75h-5.75zM588.92 1252.62h5.75v5.75h-5.75zM594.67 1246.88h5.75v5.75h-5.75zM600.42 1246.88h5.75v5.75h-5.75zM606.17 1241.12h5.75v5.75h-5.75zM635.02 1223.67h5.75v5.75h-5.75zM640.77 1217.92h5.75v5.75h-5.75zM646.52 1212.17h5.75v5.75h-5.75zM652.27 1212.17h5.75v5.75h-5.75zM658.02 1206.42h5.75v5.75h-5.75zM663.77 1206.42h5.75v5.75h-5.75zM669.52 1200.67h5.75v5.75h-5.75zM675.27 1194.92h5.75v5.75h-5.75zM681.02 1194.92h5.75v5.75h-5.75zM687.12 1189.17h5.75v5.75h-5.75zM704.38 1160.38h5.75v5.75h-5.75zM704.38 1154.62h5.75v5.75h-5.75zM710.12 1148.88h5.75v5.75h-5.75zM710.12 1143.12h5.75v5.75h-5.75zM715.88 1137.38h5.75v5.75h-5.75zM715.88 1131.62h5.75v5.75h-5.75zM721.62 1125.88h5.75v5.75h-5.75zM727.38 1120.12h5.75v5.75h-5.75zM727.38 1114.38h5.75v5.75h-5.75zM733.12 1108.62h5.75v5.75h-5.75zM744.62 1079.88h5.75v5.75h-5.75zM750.38 1074.12h5.75v5.75h-5.75zM750.38 1068.38h5.75v5.75h-5.75zM756.12 1062.12h5.75v5.75h-5.75zM761.88 1062.12h5.75v5.75h-5.75zM767.62 1062.12h5.75v5.75h-5.75zM773.38 1062.12h5.75v5.75h-5.75zM779.12 1062.12h5.75v5.75h-5.75zM784.88 1062.12h5.75v5.75h-5.75zM790.62 1062.12h5.75v5.75h-5.75zM819.12 1062.12h5.75v5.75h-5.75zM824.88 1062.12h5.75v5.75h-5.75zM830.62 1062.12h5.75v5.75h-5.75zM836.38 1062.12h5.75v5.75h-5.75zM842.12 1062.12h5.75v5.75h-5.75zM847.88 1062.12h5.75v5.75h-5.75zM853.62 1062.12h5.75v5.75h-5.75zM859.38 1062.12h5.75v5.75h-5.75zM865.12 1062.12h5.75v5.75h-5.75zM870.88 1062.12h5.75v5.75h-5.75zM899.62 1062.12h5.75v5.75h-5.75zM905.38 1062.12h5.75v5.75h-5.75zM911.12 1062.12h5.75v5.75h-5.75zM916.88 1062.12h5.75v5.75h-5.75zM922.62 1062.12h5.75v5.75h-5.75zM928.38 1062.12h5.75v5.75h-5.75zM934.12 1062.12h5.75v5.75h-5.75zM939.88 1062.12h5.75v5.75h-5.75zM945.62 1062.12h5.75v5.75h-5.75zM951.38 1062.12h5.75v5.75h-5.75zM980.12 1044.88h5.75v5.75h-5.75zM985.88 1039.12h5.75v5.75h-5.75zM991.62 1039.12h5.75v5.75h-5.75zM997.38 1033.38h5.75v5.75h-5.75zM1003.12 1027.62h5.75v5.75h-5.75zM1008.88 1027.62h5.75v5.75h-5.75zM1014.62 1021.88h5.75v5.75h-5.75zM1020.62 1016.12h5.75v5.75h-5.75zM1026.38 1022.38h5.75v5.75h-5.75zM1032.12 1022.38h5.75v5.75h-5.75zM1060.88 1045.38h5.75v5.75h-5.75zM1066.62 1045.38h5.75v5.75h-5.75zM1072.38 1051.12h5.75v5.75h-5.75zM1078.12 1056.88h5.75v5.75h-5.75zM1083.88 1056.88h5.75v5.75h-5.75zM1089.62 1062.62h5.75v5.75h-5.75zM1095.38 1056.88h5.75v5.75h-5.75zM1101.12 1056.88h5.75v5.75h-5.75zM1106.88 1051.12h5.75v5.75h-5.75zM1112.62 1045.38h5.75v5.75h-5.75zM1141.38 1022.38h5.75v5.75h-5.75zM1147.12 1022.38h5.75v5.75h-5.75zM1153.12 1016.62h5.75v5.75h-5.75zM1158.88 1016.62h5.75v5.75h-5.75zM1164.62 1016.62h5.75v5.75h-5.75zM1170.38 1016.62h5.75v5.75h-5.75zM1176.12 1016.62h5.75v5.75h-5.75zM1181.88 1016.62h5.75v5.75h-5.75zM1187.62 1016.62h5.75v5.75h-5.75zM1193.38 1016.62h5.75v5.75h-5.75zM1222.12 1016.62h5.75v5.75h-5.75zM1227.88 1010.88h5.75v5.75h-5.75zM1233.62 1010.88h5.75v5.75h-5.75zM1239.38 1005.12h5.75v5.75h-5.75zM1245.12 1005.12h5.75v5.75h-5.75zM1250.88 999.38h5.75v5.75h-5.75zM1256.62 999.38h5.75v5.75h-5.75zM1262.38 993.62h5.75v5.75h-5.75zM1268.12 987.88h5.75v5.75h-5.75zM1273.88 987.88h5.75v5.75h-5.75zM1302.62 976.83h5.75v5.75h-5.75zM1308.38 976.83h5.75v5.75h-5.75zM1314.12 976.83h5.75v5.75h-5.75zM1319.88 976.83h5.75v5.75h-5.75zM1325.62 976.83h5.75v5.75h-5.75zM1331.38 976.83h5.75v5.75h-5.75zM1337.12 976.83h5.75v5.75h-5.75zM1342.88 976.83h5.75v5.75h-5.75zM1348.62 976.83h5.75v5.75h-5.75zM1354.12 976.83h5.75v5.75h-5.75zM1359.88 1005.58h5.75v5.75h-5.75zM1365.62 1011.33h5.75v5.75h-5.75zM1365.62 1017.08h5.75v5.75h-5.75zM1365.62 1022.83h5.75v5.75h-5.75zM1365.62 1028.58h5.75v5.75h-5.75zM1371.38 1034.33h5.75v5.75h-5.75zM1371.38 1040.08h5.75v5.75h-5.75zM1371.38 1045.83h5.75v5.75h-5.75zM1377.12 1051.58h5.75v5.75h-5.75zM1377.12 1057.33h5.75v5.75h-5.75zM1382.88 1086.08h5.75v5.75h-5.75zM1382.88 1091.83h5.75v5.75h-5.75zM1388.62 1097.58h5.75v5.75h-5.75zM1388.62 1103.33h5.75v5.75h-5.75zM1388.62 1109.08h5.75v5.75h-5.75zM1394.38 1114.83h5.75v5.75h-5.75zM1394.38 1120.58h5.75v5.75h-5.75zM1394.38 1126.33h5.75v5.75h-5.75zM1394.38 1132.08h5.75v5.75h-5.75zM1400.12 1137.83h5.75v5.75h-5.75zM1405.88 1166.58h5.75v5.75h-5.75zM1405.88 1172.33h5.75v5.75h-5.75zM1411.62 1178.08h5.75v5.75h-5.75zM1411.62 1183.83h5.75v5.75h-5.75zM1411.62 1189.58h5.75v5.75h-5.75zM1411.62 1195.33h5.75v5.75h-5.75zM1417.38 1201.08h5.75v5.75h-5.75zM1417.38 1206.83h5.75v5.75h-5.75zM1417.38 1212.58h5.75v5.75h-5.75zM1417.38 1218.33h5.75v5.75h-5.75zM1440.38 1241.03h5.75v5.75h-5.75zM1446.12 1246.78h5.75v5.75h-5.75zM1451.88 1252.53h5.75v5.75h-5.75zM1457.62 1252.53h5.75v5.75h-5.75zM1463.38 1258.28h5.75v5.75h-5.75zM1469.12 1264.03h5.75v5.75h-5.75zM1474.88 1269.78h5.75v5.75h-5.75zM1480.62 1269.78h5.75v5.75h-5.75zM1486.53 1275.53h5.75v5.75h-5.75zM1492.28 1281.38h5.75v5.75h-5.75zM1521.03 1292.88h5.75v5.75h-5.75zM1526.78 1298.62h5.75v5.75h-5.75zM1532.53 1304.38h5.75v5.75h-5.75zM1538.28 1304.38h5.75v5.75h-5.75zM1544.03 1310.12h5.75v5.75h-5.75zM1549.78 1310.12h5.75v5.75h-5.75zM1556.12 1315.88h5.75v5.75h-5.75z"/>
<path fill="#000000" d="M272.88 1499.88h5.75v5.75h-5.75zM272.88 1505.62h5.75v5.75h-5.75zM278.62 1505.62h5.75v5.75h-5.75zM284.38 1505.62h5.75v5.75h-5.75zM272.88 1511.38h5.75v5.75h-5.75zM290.12 1511.38h5.75v5.75h-5.75zM295.88 1511.38h5.75v5.75h-5.75zM272.88 1517.12h5.75v5.75h-5.75zM301.62 1517.12h5.75v5.75h-5.75zM272.88 1522.88h5.75v5.75h-5.75zM307.38 1522.88h5.75v5.75h-5.75zM313.12 1522.88h5.75v5.75h-5.75zM272.88 1528.62h5.75v5.75h-5.75zM318.88 1528.62h5.75v5.75h-5.75zM272.88 1534.38h5.75v5.75h-5.75zM307.38 1534.38h5.75v5.75h-5.75zM313.12 1534.38h5.75v5.75h-5.75zM272.88 1540.12h5.75v5.75h-5.75zM295.88 1540.12h5.75v5.75h-5.75zM301.62 1540.12h5.75v5.75h-5.75zM272.88 1545.88h5.75v5.75h-5.75zM290.12 1545.88h5.75v5.75h-5.75zM272.88 1551.62h5.75v5.75h-5.75zM278.62 1551.62h5.75v5.75h-5.75zM284.38 1551.62h5.75v5.75h-5.75zM272.88 1557.38h5.75v5.75h-5.75zM335.88 1413.88h5.75v5.75h-5.75zM335.88 1419.62h5.75v5.75h-5.75zM341.62 1419.62h5.75v5.75h-5.75zM347.38 1419.62h5.75v5.75h-5.75zM335.88 1425.38h5.75v5.75h-5.75zM353.12 1425.38h5.75v5.75h-5.75zM358.88 1425.38h5.75v5.75h-5.75zM335.88 1431.12h5.75v5.75h-5.75zM364.62 1431.12h5.75v5.75h-5.75zM335.88 1436.88h5.75v5.75h-5.75zM370.38 1436.88h5.75v5.75h-5.75zM376.12 1436.88h5.75v5.75h-5.75zM335.88 1442.62h5.75v5.75h-5.75zM381.88 1442.62h5.75v5.75h-5.75zM335.88 1448.38h5.75v5.75h-5.75zM370.38 1448.38h5.75v5.75h-5.75zM376.12 1448.38h5.75v5.75h-5.75zM335.88 1454.12h5.75v5.75h-5.75zM358.88 1454.12h5.75v5.75h-5.75zM364.62 1454.12h5.75v5.75h-5.75zM335.88 1459.88h5.75v5.75h-5.75zM353.12 1459.88h5.75v5.75h-5.75zM335.88 1465.62h5.75v5.75h-5.75zM341.62 1465.62h5.75v5.75h-5.75zM347.38 1465.62h5.75v5.75h-5.75zM335.88 1471.38h5.75v5.75h-5.75zM404.88 1413.88h5.75v5.75h-5.75zM404.88 1419.62h5.75v5.75h-5.75zM410.62 1419.62h5.75v5.75h-5.75zM416.38 1419.62h5.75v5.75h-5.75zM404.88 1425.38h5.75v5.75h-5.75zM422.12 1425.38h5.75v5.75h-5.75zM427.88 1425.38h5.75v5.75h-5.75zM404.88 1431.12h5.75v5.75h-5.75zM433.62 1431.12h5.75v5.75h-5.75zM404.88 1436.88h5.75v5.75h-5.75zM439.38 1436.88h5.75v5.75h-5.75zM445.12 1436.88h5.75v5.75h-5.75zM404.88 1442.62h5.75v5.75h-5.75zM450.88 1442.62h5.75v5.75h-5.75zM404.88 1448.38h5.75v5.75h-5.75zM439.38 1448.38h5.75v5.75h-5.75zM445.12 1448.38h5.75v5.75h-5.75zM404.88 1454.12h5.75v5.75h-5.75zM427.88 1454.12h5.75v5.75h-5.75zM433.62 1454.12h5.75v5.75h-5.75zM404.88 1459.88h5.75v5.75h-5.75zM422.12 1459.88h5.75v5.75h-5.75zM404.88 1465.62h5.75v5.75h-5.75zM410.62 1465.62h5.75v5.75h-5.75zM416.38 1465.62h5.75v5.75h-5.75zM404.88 1471.38h5.75v5.75h-5.75zM468.57 1286.78h5.75v5.75h-5.75zM468.57 1292.53h5.75v5.75h-5.75zM474.32 1292.53h5.75v5.75h-5.75zM480.07 1292.53h5.75v5.75h-5.75zM468.57 1298.28h5.75v5.75h-5.75zM485.82 1298.28h5.75v5.75h-5.75zM491.57 1298.28h5.75v5.75h-5.75zM468.57 1304.03h5.75v5.75h-5.75zM497.32 1304.03h5.75v5.75h-5.75zM468.57 1309.78h5.75v5.75h-5.75zM503.07 1309.78h5.75v5.75h-5.75zM508.82 1309.78h5.75v5.75h-5.75zM468.57 1315.53h5.75v5.75h-5.75zM514.58 1315.53h5.75v5.75h-5.75zM468.57 1321.28h5.75v5.75h-5.75zM503.07 1321.28h5.75v5.75h-5.75zM508.82 1321.28h5.75v5.75h-5.75zM468.57 1327.03h5.75v5.75h-5.75zM491.57 1327.03h5.75v5.75h-5.75zM497.32 1327.03h5.75v5.75h-5.75zM468.57 1332.78h5.75v5.75h-5.75zM485.82 1332.78h5.75v5.75h-5.75zM468.57 1338.53h5.75v5.75h-5.75zM474.32 1338.53h5.75v5.75h-5.75zM480.07 1338.53h5.75v5.75h-5.75zM468.57 1344.28h5.75v5.75h-5.75zM537.17 1246.88h5.75v5.75h-5.75zM537.17 1252.62h5.75v5.75h-5.75zM542.92 1252.62h5.75v5.75h-5.75zM548.67 1252.62h5.75v5.75h-5.75zM537.17 1258.38h5.75v5.75h-5.75zM554.42 1258.38h5.75v5.75h-5.75zM560.17 1258.38h5.75v5.75h-5.75zM537.17 1264.12h5.75v5.75h-5.75zM565.92 1264.12h5.75v5.75h-5.75zM537.17 1269.88h5.75v5.75h-5.75zM571.67 1269.88h5.75v5.75h-5.75zM577.42 1269.88h5.75v5.75h-5.75zM537.17 1275.62h5.75v5.75h-5.75zM583.17 1275.62h5.75v5.75h-5.75zM537.17 1281.38h5.75v5.75h-5.75zM571.67 1281.38h5.75v5.75h-5.75zM577.42 1281.38h5.75v5.75h-5.75zM537.17 1287.12h5.75v5.75h-5.75zM560.17 1287.12h5.75v5.75h-5.75zM565.92 1287.12h5.75v5.75h-5.75zM537.17 1292.88h5.75v5.75h-5.75zM554.42 1292.88h5.75v5.75h-5.75zM537.17 1298.62h5.75v5.75h-5.75zM542.92 1298.62h5.75v5.75h-5.75zM548.67 1298.62h5.75v5.75h-5.75zM537.17 1304.38h5.75v5.75h-5.75zM606.27 1200.67h5.75v5.75h-5.75zM606.27 1206.42h5.75v5.75h-5.75zM612.02 1206.42h5.75v5.75h-5.75zM617.77 1206.42h5.75v5.75h-5.75zM606.27 1212.17h5.75v5.75h-5.75zM623.52 1212.17h5.75v5.75h-5.75zM629.27 1212.17h5.75v5.75h-5.75zM606.27 1217.92h5.75v5.75h-5.75zM635.02 1217.92h5.75v5.75h-5.75zM606.27 1223.67h5.75v5.75h-5.75zM640.77 1223.67h5.75v5.75h-5.75zM646.52 1223.67h5.75v5.75h-5.75zM606.27 1229.42h5.75v5.75h-5.75zM652.27 1229.42h5.75v5.75h-5.75zM606.27 1235.17h5.75v5.75h-5.75zM640.77 1235.17h5.75v5.75h-5.75zM646.52 1235.17h5.75v5.75h-5.75zM606.27 1240.92h5.75v5.75h-5.75zM629.27 1240.92h5.75v5.75h-5.75zM635.02 1240.92h5.75v5.75h-5.75zM606.27 1246.67h5.75v5.75h-5.75zM623.52 1246.67h5.75v5.75h-5.75zM606.27 1252.42h5.75v5.75h-5.75zM612.02 1252.42h5.75v5.75h-5.75zM617.77 1252.42h5.75v5.75h-5.75zM606.27 1258.17h5.75v5.75h-5.75zM669.88 1160.38h5.75v5.75h-5.75zM669.88 1166.12h5.75v5.75h-5.75zM675.62 1166.12h5.75v5.75h-5.75zM681.38 1166.12h5.75v5.75h-5.75zM669.88 1171.88h5.75v5.75h-5.75zM687.12 1171.88h5.75v5.75h-5.75zM692.88 1171.88h5.75v5.75h-5.75zM669.88 1177.62h5.75v5.75h-5.75zM698.62 1177.62h5.75v5.75h-5.75zM669.88 1183.38h5.75v5.75h-5.75zM704.38 1183.38h5.75v5.75h-5.75zM710.12 1183.38h5.75v5.75h-5.75zM669.88 1189.12h5.75v5.75h-5.75zM715.88 1189.12h5.75v5.75h-5.75zM669.88 1194.88h5.75v5.75h-5.75zM704.38 1194.88h5.75v5.75h-5.75zM710.12 1194.88h5.75v5.75h-5.75zM669.88 1200.62h5.75v5.75h-5.75zM692.88 1200.62h5.75v5.75h-5.75zM698.62 1200.62h5.75v5.75h-5.75zM669.88 1206.38h5.75v5.75h-5.75zM687.12 1206.38h5.75v5.75h-5.75zM669.88 1212.12h5.75v5.75h-5.75zM675.62 1212.12h5.75v5.75h-5.75zM681.38 1212.12h5.75v5.75h-5.75zM669.88 1217.88h5.75v5.75h-5.75zM738.88 1033.38h5.75v5.75h-5.75zM738.88 1039.12h5.75v5.75h-5.75zM744.62 1039.12h5.75v5.75h-5.75zM750.38 1039.12h5.75v5.75h-5.75zM738.88 1044.88h5.75v5.75h-5.75zM756.12 1044.88h5.75v5.75h-5.75zM761.88 1044.88h5.75v5.75h-5.75zM738.88 1050.62h5.75v5.75h-5.75zM767.62 1050.62h5.75v5.75h-5.75zM738.88 1056.38h5.75v5.75h-5.75zM773.38 1056.38h5.75v5.75h-5.75zM779.12 1056.38h5.75v5.75h-5.75zM738.88 1062.12h5.75v5.75h-5.75zM784.88 1062.12h5.75v5.75h-5.75zM738.88 1067.88h5.75v5.75h-5.75zM773.38 1067.88h5.75v5.75h-5.75zM779.12 1067.88h5.75v5.75h-5.75zM738.88 1073.62h5.75v5.75h-5.75zM761.88 1073.62h5.75v5.75h-5.75zM767.62 1073.62h5.75v5.75h-5.75zM738.88 1079.38h5.75v5.75h-5.75zM756.12 1079.38h5.75v5.75h-5.75zM738.88 1085.12h5.75v5.75h-5.75zM744.62 1085.12h5.75v5.75h-5.75zM750.38 1085.12h5.75v5.75h-5.75zM738.88 1090.88h5.75v5.75h-5.75zM801.88 1033.38h5.75v5.75h-5.75zM801.88 1039.12h5.75v5.75h-5.75zM807.62 1039.12h5.75v5.75h-5.75zM813.38 1039.12h5.75v5.75h-5.75zM801.88 1044.88h5.75v5.75h-5.75zM819.12 1044.88h5.75v5.75h-5.75zM824.88 1044.88h5.75v5.75h-5.75zM801.88 1050.62h5.75v5.75h-5.75zM830.62 1050.62h5.75v5.75h-5.75zM801.88 1056.38h5.75v5.75h-5.75zM836.38 1056.38h5.75v5.75h-5.75zM842.12 1056.38h5.75v5.75h-5.75zM801.88 1062.12h5.75v5.75h-5.75zM847.88 1062.12h5.75v5.75h-5.75zM801.88 1067.88h5.75v5.75h-5.75zM836.38 1067.88h5.75v5.75h-5.75zM842.12 1067.88h5.75v5.75h-5.75zM801.88 1073.62h5.75v5.75h-5.75zM824.88 1073.62h5.75v5.75h-5.75zM830.62 1073.62h5.75v5.75h-5.75zM801.88 1079.38h5.75v5.75h-5.75zM819.12 1079.38h5.75v5.75h-5.75zM801.88 1085.12h5.75v5.75h-5.75zM807.62 1085.12h5.75v5.75h-5.75zM813.38 1085.12h5.75v5.75h-5.75zM801.88 1090.88h5.75v5.75h-5.75zM870.88 1033.38h5.75v5.75h-5.75zM870.88 1039.12h5.75v5.75h-5.75zM876.62 1039.12h5.75v5.75h-5.75zM882.38 1039.12h5.75v5.75h-5.75zM870.88 1044.88h5.75v5.75h-5.75zM888.12 1044.88h5.75v5.75h-5.75zM893.88 1044.88h5.75v5.75h-5.75zM870.88 1050.62h5.75v5.75h-5.75zM899.62 1050.62h5.75v5.75h-5.75zM870.88 1056.38h5.75v5.75h-5.75zM905.38 1056.38h5.75v5.75h-5.75zM911.12 1056.38h5.75v5.75h-5.75zM870.88 1062.12h5.75v5.75h-5.75zM916.88 1062.12h5.75v5.75h-5.75zM870.88 1067.88h5.75v5.75h-5.75zM905.38 1067.88h5.75v5.75h-5.75zM911.12 1067.88h5.75v5.75h-5.75zM870.88 1073.62h5.75v5.75h-5.75zM893.88 1073.62h5.75v5.75h-5.75zM899.62 1073.62h5.75v5.75h-5.75zM870.88 1079.38h5.75v5.75h-5.75zM888.12 1079.38h5.75v5.75h-5.75zM870.88 1085.12h5.75v5.75h-5.75zM876.62 1085.12h5.75v5.75h-5.75zM882.38 1085.12h5.75v5.75h-5.75zM870.88 1090.88h5.75v5.75h-5.75zM939.88 1033.38h5.75v5.75h-5.75zM939.88 1039.12h5.75v5.75h-5.75zM945.62 1039.12h5.75v5.75h-5.75zM951.38 1039.12h5.75v5.75h-5.75zM939.88 1044.88h5.75v5.75h-5.75zM957.12 1044.88h5.75v5.75h-5.75zM962.88 1044.88h5.75v5.75h-5.75zM939.88 1050.62h5.75v5.75h-5.75zM968.62 1050.62h5.75v5.75h-5.75zM939.88 1056.38h5.75v5.75h-5.75zM974.38 1056.38h5.75v5.75h-5.75zM980.12 1056.38h5.75v5.75h-5.75zM939.88 1062.12h5.75v5.75h-5.75zM985.88 1062.12h5.75v5.75h-5.75zM939.88 1067.88h5.75v5.75h-5.75zM974.38 1067.88h5.75v5.75h-5.75zM980.12 1067.88h5.75v5.75h-5.75zM939.88 1073.62h5.75v5.75h-5.75zM962.88 1073.62h5.75v5.75h-5.75zM968.62 1073.62h5.75v5.75h-5.75zM939.88 1079.38h5.75v5.75h-5.75zM957.12 1079.38h5.75v5.75h-5.75zM939.88 1085.12h5.75v5.75h-5.75zM945.62 1085.12h5.75v5.75h-5.75zM951.38 1085.12h5.75v5.75h-5.75zM939.88 1090.88h5.75v5.75h-5.75zM1003.38 987.88h5.75v5.75h-5.75zM1003.38 993.62h5.75v5.75h-5.75zM1009.12 993.62h5.75v5.75h-5.75zM1014.88 993.62h5.75v5.75h-5.75zM1003.38 999.38h5.75v5.75h-5.75zM1020.62 999.38h5.75v5.75h-5.75zM1026.38 999.38h5.75v5.75h-5.75zM1003.38 1005.12h5.75v5.75h-5.75zM1032.12 1005.12h5.75v5.75h-5.75zM1003.38 1010.88h5.75v5.75h-5.75zM1037.88 1010.88h5.75v5.75h-5.75zM1043.62 1010.88h5.75v5.75h-5.75zM1003.38 1016.62h5.75v5.75h-5.75zM1049.38 1016.62h5.75v5.75h-5.75zM1003.38 1022.38h5.75v5.75h-5.75zM1037.88 1022.38h5.75v5.75h-5.75zM1043.62 1022.38h5.75v5.75h-5.75zM1003.38 1028.12h5.75v5.75h-5.75zM1026.38 1028.12h5.75v5.75h-5.75zM1032.12 1028.12h5.75v5.75h-5.75zM1003.38 1033.88h5.75v5.75h-5.75zM1020.62 1033.88h5.75v5.75h-5.75zM1003.38 1039.62h5.75v5.75h-5.75zM1009.12 1039.62h5.75v5.75h-5.75zM1014.88 1039.62h5.75v5.75h-5.75zM1003.38 1045.38h5.75v5.75h-5.75zM1072.38 1033.88h5.75v5.75h-5.75zM1072.38 1039.62h5.75v5.75h-5.75zM1078.12 1039.62h5.75v5.75h-5.75zM1083.88 1039.62h5.75v5.75h-5.75zM1072.38 1045.38h5.75v5.75h-5.75zM1089.62 1045.38h5.75v5.75h-5.75zM1095.38 1045.38h5.75v5.75h-5.75zM1072.38 1051.12h5.75v5.75h-5.75zM1101.12 1051.12h5.75v5.75h-5.75zM1072.38 1056.88h5.75v5.75h-5.75zM1106.88 1056.88h5.75v5.75h-5.75zM1112.62 1056.88h5.75v5.75h-5.75zM1072.38 1062.62h5.75v5.75h-5.75zM1118.38 1062.62h5.75v5.75h-5.75zM1072.38 1068.38h5.75v5.75h-5.75zM1106.88 1068.38h5.75v5.75h-5.75zM1112.62 1068.38h5.75v5.75h-5.75zM1072.38 1074.12h5.75v5.75h-5.75zM1095.38 1074.12h5.75v5.75h-5.75zM1101.12 1074.12h5.75v5.75h-5.75zM1072.38 1079.88h5.75v5.75h-5.75zM1089.62 1079.88h5.75v5.75h-5.75zM1072.38 1085.62h5.75v5.75h-5.75zM1078.12 1085.62h5.75v5.75h-5.75zM1083.88 1085.62h5.75v5.75h-5.75zM1072.38 1091.38h5.75v5.75h-5.75zM1135.88 987.88h5.75v5.75h-5.75zM1135.88 993.62h5.75v5.75h-5.75zM1141.62 993.62h5.75v5.75h-5.75zM1147.38 993.62h5.75v5.75h-5.75zM1135.88 999.38h5.75v5.75h-5.75zM1153.12 999.38h5.75v5.75h-5.75zM1158.88 999.38h5.75v5.75h-5.75zM1135.88 1005.12h5.75v5.75h-5.75zM1164.62 1005.12h5.75v5.75h-5.75zM1135.88 1010.88h5.75v5.75h-5.75zM1170.38 1010.88h5.75v5.75h-5.75zM1176.12 1010.88h5.75v5.75h-5.75zM1135.88 1016.62h5.75v5.75h-5.75zM1181.88 1016.62h5.75v5.75h-5.75zM1135.88 1022.38h5.75v5.75h-5.75zM1170.38 1022.38h5.75v5.75h-5.75zM1176.12 1022.38h5.75v5.75h-5.75zM1135.88 1028.12h5.75v5.75h-5.75zM1158.88 1028.12h5.75v5.75h-5.75zM1164.62 1028.12h5.75v5.75h-5.75zM1135.88 1033.88h5.75v5.75h-5.75zM1153.12 1033.88h5.75v5.75h-5.75zM1135.88 1039.62h5.75v5.75h-5.75zM1141.62 1039.62h5.75v5.75h-5.75zM1147.38 1039.62h5.75v5.75h-5.75zM1135.88 1045.38h5.75v5.75h-5.75zM1204.88 987.88h5.75v5.75h-5.75zM1204.88 993.62h5.75v5.75h-5.75zM1210.62 993.62h5.75v5.75h-5.75zM1216.38 993.62h5.75v5.75h-5.75zM1204.88 999.38h5.75v5.75h-5.75zM1222.12 999.38h5.75v5.75h-5.75zM1227.88 999.38h5.75v5.75h-5.75zM1204.88 1005.12h5.75v5.75h-5.75zM1233.62 1005.12h5.75v5.75h-5.75zM1204.88 1010.88h5.75v5.75h-5.75zM1239.38 1010.88h5.75v5.75h-5.75zM1245.12 1010.88h5.75v5.75h-5.75zM1204.88 1016.62h5.75v5.75h-5.75zM1250.88 1016.62h5.75v5.75h-5.75zM1204.88 1022.38h5.75v5.75h-5.75zM1239.38 1022.38h5.75v5.75h-5.75zM1245.12 1022.38h5.75v5.75h-5.75zM1204.88 1028.12h5.75v5.75h-5.75zM1227.88 1028.12h5.75v5.75h-5.75zM1233.62 1028.12h5.75v5.75h-5.75zM1204.88 1033.88h5.75v5.75h-5.75zM1222.12 1033.88h5.75v5.75h-5.75zM1204.88 1039.62h5.75v5.75h-5.75zM1210.62 1039.62h5.75v5.75h-5.75zM1216.38 1039.62h5.75v5.75h-5.75zM1204.88 1045.38h5.75v5.75h-5.75zM1273.88 948.08h5.75v5.75h-5.75zM1273.88 953.83h5.75v5.75h-5.75zM1279.62 953.83h5.75v5.75h-5.75zM1285.38 953.83h5.75v5.75h-5.75zM1273.88 959.58h5.75v5.75h-5.75zM1291.12 959.58h5.75v5.75h-5.75zM1296.88 959.58h5.75v5.75h-5.75zM1273.88 965.33h5.75v5.75h-5.75zM1302.62 965.33h5.75v5.75h-5.75zM1273.88 971.08h5.75v5.75h-5.75zM1308.38 971.08h5.75v5.75h-5.75zM1314.12 971.08h5.75v5.75h-5.75zM1273.88 976.83h5.75v5.75h-5.75zM1319.88 976.83h5.75v5.75h-5.75zM1273.88 982.58h5.75v5.75h-5.75zM1308.38 982.58h5.75v5.75h-5.75zM1314.12 982.58h5.75v5.75h-5.75zM1273.88 988.33h5.75v5.75h-5.75zM1296.88 988.33h5.75v5.75h-5.75zM1302.62 988.33h5.75v5.75h-5.75zM1273.88 994.08h5.75v5.75h-5.75zM1291.12 994.08h5.75v5.75h-5.75zM1273.88 999.83h5.75v5.75h-5.75zM1279.62 999.83h5.75v5.75h-5.75zM1285.38 999.83h5.75v5.75h-5.75zM1273.88 1005.58h5.75v5.75h-5.75zM1336.88 948.08h5.75v5.75h-5.75zM1336.88 953.83h5.75v5.75h-5.75zM1342.62 953.83h5.75v5.75h-5.75zM1348.38 953.83h5.75v5.75h-5.75zM1336.88 959.58h5.75v5.75h-5.75zM1354.12 959.58h5.75v5.75h-5.75zM1359.88 959.58h5.75v5.75h-5.75zM1336.88 965.33h5.75v5.75h-5.75zM1365.62 965.33h5.75v5.75h-5.75zM1336.88 971.08h5.75v5.75h-5.75zM1371.38 971.08h5.75v5.75h-5.75zM1377.12 971.08h5.75v5.75h-5.75zM1336.88 976.83h5.75v5.75h-5.75zM1382.88 976.83h5.75v5.75h-5.75zM1336.88 982.58h5.75v5.75h-5.75zM1371.38 982.58h5.75v5.75h-5.75zM1377.12 982.58h5.75v5.75h-5.75zM1336.88 988.33h5.75v5.75h-5.75zM1359.88 988.33h5.75v5.75h-5.75zM1365.62 988.33h5.75v5.75h-5.75zM1336.88 994.08h5.75v5.75h-5.75zM1354.12 994.08h5.75v5.75h-5.75zM1336.88 999.83h5.75v5.75h-5.75zM1342.62 999.83h5.75v5.75h-5.75zM1348.38 999.83h5.75v5.75h-5.75zM1336.88 1005.58h5.75v5.75h-5.75zM1405.88 1200.78h5.75v5.75h-5.75zM1405.88 1206.53h5.75v5.75h-5.75zM1411.62 1206.53h5.75v5.75h-5.75zM1417.38 1206.53h5.75v5.75h-5.75zM1405.88 1212.28h5.75v5.75h-5.75zM1423.12 1212.28h5.75v5.75h-5.75zM1428.88 1212.28h5.75v5.75h-5.75zM1405.88 1218.03h5.75v5.75h-5.75zM1434.62 1218.03h5.75v5.75h-5.75zM1405.88 1223.78h5.75v5.75h-5.75zM1440.38 1223.78h5.75v5.75h-5.75zM1446.12 1223.78h5.75v5.75h-5.75zM1405.88 1229.53h5.75v5.75h-5.75zM1451.88 1229.53h5.75v5.75h-5.75zM1405.88 1235.28h5.75v5.75h-5.75zM1440.38 1235.28h5.75v5.75h-5.75zM1446.12 1235.28h5.75v5.75h-5.75zM1405.88 1241.03h5.75v5.75h-5.75zM1428.88 1241.03h5.75v5.75h-5.75zM1434.62 1241.03h5.75v5.75h-5.75zM1405.88 1246.78h5.75v5.75h-5.75zM1423.12 1246.78h5.75v5.75h-5.75zM1405.88 1252.53h5.75v5.75h-5.75zM1411.62 1252.53h5.75v5.75h-5.75zM1417.38 1252.53h5.75v5.75h-5.75zM1405.88 1258.28h5.75v5.75h-5.75zM1469.28 1246.88h5.75v5.75h-5.75zM1469.28 1252.62h5.75v5.75h-5.75zM1475.03 1252.62h5.75v5.75h-5.75zM1480.78 1252.62h5.75v5.75h-5.75zM1469.28 1258.38h5.75v5.75h-5.75zM1486.53 1258.38h5.75v5.75h-5.75zM1492.28 1258.38h5.75v5.75h-5.75zM1469.28 1264.12h5.75v5.75h-5.75zM1498.03 1264.12h5.75v5.75h-5.75zM1469.28 1269.88h5.75v5.75h-5.75zM1503.78 1269.88h5.75v5.75h-5.75zM1509.53 1269.88h5.75v5.75h-5.75zM1469.28 1275.62h5.75v5.75h-5.75zM1515.28 1275.62h5.75v5.75h-5.75zM1469.28 1281.38h5.75v5.75h-5.75zM1503.78 1281.38h5.75v5.75h-5.75zM1509.53 1281.38h5.75v5.75h-5.75zM1469.28 1287.12h5.75v5.75h-5.75zM1492.28 1287.12h5.75v5.75h-5.75zM1498.03 1287.12h5.75v5.75h-5.75zM1469.28 1292.88h5.75v5.75h-5.75zM1486.53 1292.88h5.75v5.75h-5.75zM1469.28 1298.62h5.75v5.75h-5.75zM1475.03 1298.62h5.75v5.75h-5.75zM1480.78 1298.62h5.75v5.75h-5.75zM1469.28 1304.38h5.75v5.75h-5.75zM1538.88 1286.38h5.75v5.75h-5.75zM1538.88 1292.12h5.75v5.75h-5.75zM1544.62 1292.12h5.75v5.75h-5.75zM1550.38 1292.12h5.75v5.75h-5.75zM1538.88 1297.88h5.75v5.75h-5.75zM1556.12 1297.88h5.75v5.75h-5.75zM1561.88 1297.88h5.75v5.75h-5.75zM1538.88 1303.62h5.75v5.75h-5.75zM1567.62 1303.62h5.75v5.75h-5.75zM1538.88 1309.38h5.75v5.75h-5.75zM1573.38 1309.38h5.75v5.75h-5.75zM1579.12 1309.38h5.75v5.75h-5.75zM1538.88 1315.12h5.75v5.75h-5.75zM1584.88 1315.12h5.75v5.75h-5.75zM1538.88 1320.88h5.75v5.75h-5.75zM1573.38 1320.88h5.75v5.75h-5.75zM1579.12 1320.88h5.75v5.75h-5.75zM1538.88 1326.62h5.75v5.75h-5.75zM1561.88 1326.62h5.75v5.75h-5.75zM1567.62 1326.62h5.75v5.75h-5.75zM1538.88 1332.38h5.75v5.75h-5.75zM1556.12 1332.38h5.75v5.75h-5.75zM1538.88 1338.12h5.75v5.75h-5.75zM1544.62 1338.12h5.75v5.75h-5.75zM1550.38 1338.12h5.75v5.75h-5.75zM1538.88 1343.88h5.75v5.75h-5.75z"/>
<path fill="#000000" d="M290 936h6v644h-6zM290 936h1335v6h-1335zM290 1575h1335v5h-1335z"/>
<path fill="#ff00ff" d="M290.12 1384.12h5.75v5.75h-5.75zM318.88 1361.12h5.75v5.75h-5.75zM347.62 1343.88h5.75v5.75h-5.75zM376.12 1344.88h5.75v5.75h-5.75zM404.88 1350.62h5.75v5.75h-5.75zM427.88 1344.33h5.75v5.75h-5.75zM439.38 1315.58h5.75v5.75h-5.75zM456.62 1286.83h5.75v5.75h-5.75zM468.12 1258.08h5.75v5.75h-5.75zM479.62 1229.33h5.75v5.75h-5.75zM503.07 1206.62h5.75v5.75h-5.75zM531.83 1195.12h5.75v5.75h-5.75zM560.17 1189.28h5.75v5.75h-5.75zM577.42 1218.03h5.75v5.75h-5.75zM600.42 1246.78h5.75v5.75h-5.75zM617.67 1275.53h5.75v5.75h-5.75zM635.02 1258.12h5.75v5.75h-5.75zM652.27 1229.38h5.75v5.75h-5.75zM663.77 1200.62h5.75v5.75h-5.75zM681.02 1171.88h5.75v5.75h-5.75zM692.88 1166.62h5.75v5.75h-5.75zM710.12 1195.38h5.75v5.75h-5.75zM727.38 1224.12h5.75v5.75h-5.75zM744.62 1252.88h5.75v5.75h-5.75zM756.12 1269.38h5.75v5.75h-5.75zM767.62 1240.62h5.75v5.75h-5.75zM779.12 1211.88h5.75v5.75h-5.75zM784.88 1183.12h5.75v5.75h-5.75zM796.38 1154.38h5.75v5.75h-5.75zM802.12 1125.62h5.75v5.75h-5.75zM813.62 1096.88h5.75v5.75h-5.75zM824.88 1091.62h5.75v5.75h-5.75zM836.38 1120.38h5.75v5.75h-5.75zM847.88 1149.12h5.75v5.75h-5.75zM859.38 1177.88h5.75v5.75h-5.75zM870.88 1206.62h5.75v5.75h-5.75zM882.38 1235.38h5.75v5.75h-5.75zM899.62 1246.38h5.75v5.75h-5.75zM928.38 1223.38h5.75v5.75h-5.75zM957.12 1200.38h5.75v5.75h-5.75zM985.88 1201.12h5.75v5.75h-5.75zM1014.62 1206.88h5.75v5.75h-5.75zM1037.88 1184.12h5.75v5.75h-5.75zM1055.12 1155.38h5.75v5.75h-5.75zM1072.38 1126.62h5.75v5.75h-5.75zM1095.38 1108.88h5.75v5.75h-5.75zM1124.12 1137.62h5.75v5.75h-5.75zM1147.12 1166.38h5.75v5.75h-5.75zM1176.12 1189.38h5.75v5.75h-5.75zM1204.88 1212.38h5.75v5.75h-5.75zM1233.62 1212.62h5.75v5.75h-5.75zM1262.38 1183.88h5.75v5.75h-5.75zM1291.12 1155.12h5.75v5.75h-5.75zM1302.62 1126.38h5.75v5.75h-5.75zM1319.88 1097.62h5.75v5.75h-5.75zM1331.38 1068.88h5.75v5.75h-5.75zM1348.62 1040.12h5.75v5.75h-5.75zM1365.62 1045.38h5.75v5.75h-5.75zM1388.62 1074.12h5.75v5.75h-5.75zM1411.62 1102.88h5.75v5.75h-5.75zM1440.38 1097.38h5.75v5.75h-5.75zM1469.12 1074.38h5.75v5.75h-5.75zM1492.28 1068.62h5.75v5.75h-5.75zM1503.78 1097.38h5.75v5.75h-5.75zM1515.28 1126.12h5.75v5.75h-5.75zM1526.78 1154.88h5.75v5.75h-5.75zM1544.03 1183.62h5.75v5.75h-5.75zM1555.53 1212.38h5.75v5.75h-5.75zM1573.38 1241.12h5.75v5.75h-5.75zM1596.38 1269.88h5.75v5.75h-5.75zM1619.38 1298.62h5.75v5.75h-5.75z"/>
<path fill="#ff00ff" d="M353.12 1316.12h5.75v5.75h-5.75zM353.12 1321.88h5.75v5.75h-5.75zM353.12 1327.62h5.75v5.75h-5.75zM353.12 1333.38h5.75v5.75h-5.75zM353.12 1339.12h5.75v5.75h-5.75zM353.12 1344.88h5.75v5.75h-5.75zM353.12 1350.62h5.75v5.75h-5.75zM353.12 1356.38h5.75v5.75h-5.75zM353.12 1362.12h5.75v5.75h-5.75zM330.12 1339.12h5.75v5.75h-5.75zM335.88 1339.12h5.75v5.75h-5.75zM341.62 1339.12h5.75v5.75h-5.75zM347.38 1339.12h5.75v5.75h-5.75zM358.88 1339.12h5.75v5.75h-5.75zM364.62 1339.12h5.75v5.75h-5.75zM370.38 1339.12h5.75v5.75h-5.75zM376.12 1339.12h5.75v5.75h-5.75zM422.12 1332.83h5.75v5.75h-5.75zM422.12 1338.58h5.75v5.75h-5.75zM422.12 1344.33h5.75v5.75h-5.75zM422.12 1350.08h5.75v5.75h-5.75zM422.12 1355.83h5.75v5.75h-5.75zM422.12 1361.58h5.75v5.75h-5.75zM422.12 1367.33h5.75v5.75h-5.75zM422.12 1373.08h5.75v5.75h-5.75zM422.12 1378.83h5.75v5.75h-5.75zM399.12 1355.83h5.75v5.75h-5.75zM404.88 1355.83h5.75v5.75h-5.75zM410.62 1355.83h5.75v5.75h-5.75zM416.38 1355.83h5.75v5.75h-5.75zM427.88 1355.83h5.75v5.75h-5.75zM433.62 1355.83h5.75v5.75h-5.75zM439.38 1355.83h5.75v5.75h-5.75zM445.12 1355.83h5.75v5.75h-5.75zM485.82 1195.12h5.75v5.75h-5.75zM485.82 1200.88h5.75v5.75h-5.75zM485.82 1206.62h5.75v5.75h-5.75zM485.82 1212.38h5.75v5.75h-5.75zM485.82 1218.12h5.75v5.75h-5.75zM485.82 1223.88h5.75v5.75h-5.75zM485.82 1229.62h5.75v5.75h-5.75zM485.82 1235.38h5.75v5.75h-5.75zM485.82 1241.12h5.75v5.75h-5.75zM462.82 1218.12h5.75v5.75h-5.75zM468.57 1218.12h5.75v5.75h-5.75zM474.32 1218.12h5.75v5.75h-5.75zM480.07 1218.12h5.75v5.75h-5.75zM491.57 1218.12h5.75v5.75h-5.75zM497.32 1218.12h5.75v5.75h-5.75zM503.07 1218.12h5.75v5.75h-5.75zM508.82 1218.12h5.75v5.75h-5.75zM554.42 1160.53h5.75v5.75h-5.75zM554.42 1166.28h5.75v5.75h-5.75zM554.42 1172.03h5.75v5.75h-5.75zM554.42 1177.78h5.75v5.75h-5.75zM554.42 1183.53h5.75v5.75h-5.75zM554.42 1189.28h5.75v5.75h-5.75zM554.42 1195.03h5.75v5.75h-5.75zM554.42 1200.78h5.75v5.75h-5.75zM554.42 1206.53h5.75v5.75h-5.75zM531.42 1183.53h5.75v5.75h-5.75zM537.17 1183.53h5.75v5.75h-5.75zM542.92 1183.53h5.75v5.75h-5.75zM548.67 1183.53h5.75v5.75h-5.75zM560.17 1183.53h5.75v5.75h-5.75zM565.92 1183.53h5.75v5.75h-5.75zM571.67 1183.53h5.75v5.75h-5.75zM577.42 1183.53h5.75v5.75h-5.75zM623.52 1258.12h5.75v5.75h-5.75zM623.52 1263.88h5.75v5.75h-5.75zM623.52 1269.62h5.75v5.75h-5.75zM623.52 1275.38h5.75v5.75h-5.75zM623.52 1281.12h5.75v5.75h-5.75zM623.52 1286.88h5.75v5.75h-5.75zM623.52 1292.62h5.75v5.75h-5.75zM623.52 1298.38h5.75v5.75h-5.75zM623.52 1304.12h5.75v5.75h-5.75zM600.52 1281.12h5.75v5.75h-5.75zM606.27 1281.12h5.75v5.75h-5.75zM612.02 1281.12h5.75v5.75h-5.75zM617.77 1281.12h5.75v5.75h-5.75zM629.27 1281.12h5.75v5.75h-5.75zM635.02 1281.12h5.75v5.75h-5.75zM640.77 1281.12h5.75v5.75h-5.75zM646.52 1281.12h5.75v5.75h-5.75zM687.12 1132.12h5.75v5.75h-5.75zM687.12 1137.88h5.75v5.75h-5.75zM687.12 1143.62h5.75v5.75h-5.75zM687.12 1149.38h5.75v5.75h-5.75zM687.12 1155.12h5.75v5.75h-5.75zM687.12 1160.88h5.75v5.75h-5.75zM687.12 1166.62h5.75v5.75h-5.75zM687.12 1172.38h5.75v5.75h-5.75zM687.12 1178.12h5.75v5.75h-5.75zM664.12 1155.12h5.75v5.75h-5.75zM669.88 1155.12h5.75v5.75h-5.75zM675.62 1155.12h5.75v5.75h-5.75zM681.38 1155.12h5.75v5.75h-5.75zM692.88 1155.12h5.75v5.75h-5.75zM698.62 1155.12h5.75v5.75h-5.75zM704.38 1155.12h5.75v5.75h-5.75zM710.12 1155.12h5.75v5.75h-5.75zM756.12 1252.12h5.75v5.75h-5.75zM756.12 1257.88h5.75v5.75h-5.75zM756.12 1263.62h5.75v5.75h-5.75zM756.12 1269.38h5.75v5.75h-5.75zM756.12 1275.12h5.75v5.75h-5.75zM756.12 1280.88h5.75v5.75h-5.75zM756.12 1286.62h5.75v5.75h-5.75zM756.12 1292.38h5.75v5.75h-5.75zM756.12 1298.12h5.75v5.75h-5.75zM733.12 1275.12h5.75v5.75h-5.75zM738.88 1275.12h5.75v5.75h-5.75zM744.62 1275.12h5.75v5.75h-5.75zM750.38 1275.12h5.75v5.75h-5.75zM761.88 1275.12h5.75v5.75h-5.75zM767.62 1275.12h5.75v5.75h-5.75zM773.38 1275.12h5.75v5.75h-5.75zM779.12 1275.12h5.75v5.75h-5.75zM819.12 1057.12h5.75v5.75h-5.75zM819.12 1062.88h5.75v5.75h-5.75zM819.12 1068.62h5.75v5.75h-5.75zM819.12 1074.38h5.75v5.75h-5.75zM819.12 1080.12h5.75v5.75h-5.75zM819.12 1085.88h5.75v5.75h-5.75zM819.12 1091.62h5.75v5.75h-5.75zM819.12 1097.38h5.75v5.75h-5.75zM819.12 1103.12h5.75v5.75h-5.75zM796.12 1080.12h5.75v5.75h-5.75zM801.88 1080.12h5.75v5.75h-5.75zM807.62 1080.12h5.75v5.75h-5.75zM813.38 1080.12h5.75v5.75h-5.75zM824.88 1080.12h5.75v5.75h-5.75zM830.62 1080.12h5.75v5.75h-5.75zM836.38 1080.12h5.75v5.75h-5.75zM842.12 1080.12h5.75v5.75h-5.75zM888.12 1229.12h5.75v5.75h-5.75zM888.12 1234.88h5.75v5.75h-5.75zM888.12 1240.62h5.75v5.75h-5.75zM888.12 1246.38h5.75v5.75h-5.75zM888.12 1252.12h5.75v5.75h-5.75zM888.12 1257.88h5.75v5.75h-5.75zM888.12 1263.62h5.75v5.75h-5.75zM888.12 1269.38h5.75v5.75h-5.75zM888.12 1275.12h5.75v5.75h-5.75zM865.12 1252.12h5.75v5.75h-5.75zM870.88 1252.12h5.75v5.75h-5.75zM876.62 1252.12h5.75v5.75h-5.75zM882.38 1252.12h5.75v5.75h-5.75zM893.88 1252.12h5.75v5.75h-5.75zM899.62 1252.12h5.75v5.75h-5.75zM905.38 1252.12h5.75v5.75h-5.75zM911.12 1252.12h5.75v5.75h-5.75zM957.12 1178.12h5.75v5.75h-5.75zM957.12 1183.88h5.75v5.75h-5.75zM957.12 1189.62h5.75v5.75h-5.75zM957.12 1195.38h5.75v5.75h-5.75zM957.12 1201.12h5.75v5.75h-5.75zM957.12 1206.88h5.75v5.75h-5.75zM957.12 1212.62h5.75v5.75h-5.75zM957.12 1218.38h5.75v5.75h-5.75zM957.12 1224.12h5.75v5.75h-5.75zM934.12 1201.12h5.75v5.75h-5.75zM939.88 1201.12h5.75v5.75h-5.75zM945.62 1201.12h5.75v5.75h-5.75zM951.38 1201.12h5.75v5.75h-5.75zM962.88 1201.12h5.75v5.75h-5.75zM968.62 1201.12h5.75v5.75h-5.75zM974.38 1201.12h5.75v5.75h-5.75zM980.12 1201.12h5.75v5.75h-5.75zM1020.62 1184.12h5.75v5.75h-5.75zM1020.62 1189.88h5.75v5.75h-5.75zM1020.62 1195.62h5.75v5.75h-5.75zM1020.62 1201.38h5.75v5.75h-5.75zM1020.62 1207.12h5.75v5.75h-5.75zM1020.62 1212.88h5.75v5.75h-5.75zM1020.62 1218.62h5.75v5.75h-5.75zM1020.62 1224.38h5.75v5.75h-5.75zM1020.62 1230.12h5.75v5.75h-5.75zM997.62 1207.12h5.75v5.75h-5.75zM1003.38 1207.12h5.75v5.75h-5.75zM1009.12 1207.12h5.75v5.75h-5.75zM1014.88 1207.12h5.75v5.75h-5.75zM1026.38 1207.12h5.75v5.75h-5.75zM1032.12 1207.12h5.75v5.75h-5.75zM1037.88 1207.12h5.75v5.75h-5.75zM1043.62 1207.12h5.75v5.75h-5.75zM1089.62 1080.12h5.75v5.75h-5.75zM1089.62 1085.88h5.75v5.75h-5.75zM1089.62 1091.62h5.75v5.75h-5.75zM1089.62 1097.38h5.75v5.75h-5.75zM1089.62 1103.12h5.75v5.75h-5.75zM1089.62 1108.88h5.75v5.75h-5.75zM1089.62 1114.62h5.75v5.75h-5.75zM1089.62 1120.38h5.75v5.75h-5.75zM1089.62 1126.12h5.75v5.75h-5.75zM1066.62 1103.12h5.75v5.75h-5.75zM1072.38 1103.12h5.75v5.75h-5.75zM1078.12 1103.12h5.75v5.75h-5.75zM1083.88 1103.12h5.75v5.75h-5.75zM1095.38 1103.12h5.75v5.75h-5.75zM1101.12 1103.12h5.75v5.75h-5.75zM1106.88 1103.12h5.75v5.75h-5.75zM1112.62 1103.12h5.75v5.75h-5.75zM1153.12 1149.12h5.75v5.75h-5.75zM1153.12 1154.88h5.75v5.75h-5.75zM1153.12 1160.62h5.75v5.75h-5.75zM1153.12 1166.38h5.75v5.75h-5.75zM1153.12 1172.12h5.75v5.75h-5.75zM1153.12 1177.88h5.75v5.75h-5.75zM1153.12 1183.62h5.75v5.75h-5.75zM1153.12 1189.38h5.75v5.75h-5.75zM1153.12 1195.12h5.75v5.75h-5.75zM1130.12 1172.12h5.75v5.75h-5.75zM1135.88 1172.12h5.75v5.75h-5.75zM1141.62 1172.12h5.75v5.75h-5.75zM1147.38 1172.12h5.75v5.75h-5.75zM1158.88 1172.12h5.75v5.75h-5.75zM1164.62 1172.12h5.75v5.75h-5.75zM1170.38 1172.12h5.75v5.75h-5.75zM1176.12 1172.12h5.75v5.75h-5.75zM1222.12 1201.12h5.75v5.75h-5.75zM1222.12 1206.88h5.75v5.75h-5.75zM1222.12 1212.62h5.75v5.75h-5.75zM1222.12 1218.38h5.75v5.75h-5.75zM1222.12 1224.12h5.75v5.75h-5.75zM1222.12 1229.88h5.75v5.75h-5.75zM1222.12 1235.62h5.75v5.75h-5.75zM1222.12 1241.38h5.75v5.75h-5.75zM1222.12 1247.12h5.75v5.75h-5.75zM1199.12 1224.12h5.75v5.75h-5.75zM1204.88 1224.12h5.75v5.75h-5.75zM1210.62 1224.12h5.75v5.75h-5.75zM1216.38 1224.12h5.75v5.75h-5.75zM1227.88 1224.12h5.75v5.75h-5.75zM1233.62 1224.12h5.75v5.75h-5.75zM1239.38 1224.12h5.75v5.75h-5.75zM1245.12 1224.12h5.75v5.75h-5.75zM1291.12 1132.12h5.75v5.75h-5.75zM1291.12 1137.88h5.75v5.75h-5.75zM1291.12 1143.62h5.75v5.75h-5.75zM1291.12 1149.38h5.75v5.75h-5.75zM1291.12 1155.12h5.75v5.75h-5.75zM1291.12 1160.88h5.75v5.75h-5.75zM1291.12 1166.62h5.75v5.75h-5.75zM1291.12 1172.38h5.75v5.75h-5.75zM1291.12 1178.12h5.75v5.75h-5.75zM1268.12 1155.12h5.75v5.75h-5.75zM1273.88 1155.12h5.75v5.75h-5.75zM1279.62 1155.12h5.75v5.75h-5.75zM1285.38 1155.12h5.75v5.75h-5.75zM1296.88 1155.12h5.75v5.75h-5.75zM1302.62 1155.12h5.75v5.75h-5.75zM1308.38 1155.12h5.75v5.75h-5.75zM1314.12 1155.12h5.75v5.75h-5.75zM1354.12 1005.12h5.75v5.75h-5.75zM1354.12 1010.88h5.75v5.75h-5.75zM1354.12 1016.62h5.75v5.75h-5.75zM1354.12 1022.38h5.75v5.75h-5.75zM1354.12 1028.12h5.75v5.75h-5.75zM1354.12 1033.88h5.75v5.75h-5.75zM1354.12 1039.62h5.75v5.75h-5.75zM1354.12 1045.38h5.75v5.75h-5.75zM1354.12 1051.12h5.75v5.75h-5.75zM1331.12 1028.12h5.75v5.75h-5.75zM1336.88 1028.12h5.75v5.75h-5.75zM1342.62 1028.12h5.75v5.75h-5.75zM1348.38 1028.12h5.75v5.75h-5.75zM1359.88 1028.12h5.75v5.75h-5.75zM1365.62 1028.12h5.75v5.75h-5.75zM1371.38 1028.12h5.75v5.75h-5.75zM1377.12 1028.12h5.75v5.75h-5.75zM1423.12 1091.62h5.75v5.75h-5.75zM1423.12 1097.38h5.75v5.75h-5.75zM1423.12 1103.12h5.75v5.75h-5.75zM1423.12 1108.88h5.75v5.75h-5.75zM1423.12 1114.62h5.75v5.75h-5.75zM1423.12 1120.38h5.75v5.75h-5.75zM1423.12 1126.12h5.75v5.75h-5.75zM1423.12 1131.88h5.75v5.75h-5.75zM1423.12 1137.62h5.75v5.75h-5.75zM1400.12 1114.62h5.75v5.75h-5.75zM1405.88 1114.62h5.75v5.75h-5.75zM1411.62 1114.62h5.75v5.75h-5.75zM1417.38 1114.62h5.75v5.75h-5.75zM1428.88 1114.62h5.75v5.75h-5.75zM1434.62 1114.62h5.75v5.75h-5.75zM1440.38 1114.62h5.75v5.75h-5.75zM1446.12 1114.62h5.75v5.75h-5.75zM1486.53 1034.12h5.75v5.75h-5.75zM1486.53 1039.88h5.75v5.75h-5.75zM1486.53 1045.62h5.75v5.75h-5.75zM1486.53 1051.38h5.75v5.75h-5.75zM1486.53 1057.12h5.75v5.75h-5.75zM1486.53 1062.88h5.75v5.75h-5.75zM1486.53 1068.62h5.75v5.75h-5.75zM1486.53 1074.38h5.75v5.75h-5.75zM1486.53 1080.12h5.75v5.75h-5.75zM1463.53 1057.12h5.75v5.75h-5.75zM1469.28 1057.12h5.75v5.75h-5.75zM1475.03 1057.12h5.75v5.75h-5.75zM1480.78 1057.12h5.75v5.75h-5.75zM1492.28 1057.12h5.75v5.75h-5.75zM1498.03 1057.12h5.75v5.75h-5.75zM1503.78 1057.12h5.75v5.75h-5.75zM1509.53 1057.12h5.75v5.75h-5.75zM1556.12 1195.12h5.75v5.75h-5.75zM1556.12 1200.88h5.75v5.75h-5.75zM1556.12 1206.62h5.75v5.75h-5.75zM1556.12 1212.38h5.75v5.75h-5.75zM1556.12 1218.12h5.75v5.75h-5.75zM1556.12 1223.88h5.75v5.75h-5.75zM1556.12 1229.62h5.75v5.75h-5.75zM1556.12 1235.38h5.75v5.75h-5.75zM1556.12 1241.12h5.75v5.75h-5.75zM1533.12 1218.12h5.75v5.75h-5.75zM1538.88 1218.12h5.75v5.75h-5.75zM1544.62 1218.12h5.75v5.75h-5.75zM1550.38 1218.12h5.75v5.75h-5.75zM1561.88 1218.12h5.75v5.75h-5.75zM1567.62 1218.12h5.75v5.75h-5.75zM1573.38 1218.12h5.75v5.75h-5.75zM1579.12 1218.12h5.75v5.75h-5.75zM1625.12 1281.12h5.75v5.75h-5.75zM1625.12 1286.88h5.75v5.75h-5.75zM1625.12 1292.62h5.75v5.75h-5.75zM1625.12 1298.38h5.75v5.75h-5.75zM1625.12 1304.12h5.75v5.75h-5.75zM1625.12 1309.88h5.75v5.75h-5.75zM1625.12 1315.62h5.75v5.75h-5.75zM1625.12 1321.38h5.75v5.75h-5.75zM1625.12 1327.12h5.75v5.75h-5.75zM1602.12 1304.12h5.75v5.75h-5.75zM1607.88 1304.12h5.75v5.75h-5.75zM1613.62 1304.12h5.75v5.75h-5.75zM1619.38 1304.12h5.75v5.75h-5.75zM1630.88 1304.12h5.75v5.75h-5.75zM1636.62 1304.12h5.75v5.75h-5.75zM1642.38 1304.12h5.75v5.75h-5.75zM1648.12 1304.12h5.75v5.75h-5.75z"/>
<path fill="#ff00ff" d="M1625 936h6v644h-6zM1608 936h17v6h-17zM1608 1149h17v6h-17zM1608 1362h17v6h-17z"/>
</g>
<g>
<text transform="translate(169.00,90.00) scale(0.85,1)" fill="#0000ff" stroke="#0000ff" stroke-width="0"><tspan x="3.52" y="0.0" font-size="72.5" font-family="Liberation Sans, Arial, sans-serif">0</tspan><tspan x="37.81" y="0.0" font-size="77.0">.</tspan><tspan x="99.13" y="0.0" font-size="77.0" font-family="Liberation Serif, serif">1</tspan></text>
<text transform="translate(128.75,445.90) scale(0.85,1)" fill="#0000ff" stroke="#0000ff" stroke-width="0"><tspan x="3.52" y="0.0" font-size="72.5" font-family="Liberation Sans, Arial, sans-serif">0</tspan><tspan x="37.81" y="0.0" font-size="77.0">.</tspan><tspan x="98.23" y="0.0" font-size="72.5" font-family="Liberation Sans, Arial, sans-serif">0</tspan><tspan x="142.64" y="0.0" font-size="77.0">5</tspan></text>
<text transform="translate(249.50,803.20) scale(0.85,1)" fill="#0000ff" stroke="#0000ff" stroke-width="0"><tspan x="3.52" y="0.0" font-size="72.5" font-family="Liberation Sans, Arial, sans-serif">0</tspan></text>
<text transform="translate(1636.25,90.20) scale(0.85,1)" fill="#ff0000" stroke="#ff0000" stroke-width="0"><tspan x="4.43" y="0.0" font-size="77.0" font-family="Liberation Serif, serif">1</tspan><tspan x="50.87" y="0.0" font-size="72.5" font-family="Liberation Sans, Arial, sans-serif">0</tspan></text>
<text transform="translate(1636.25,445.60) scale(0.85,1)" fill="#ff0000" stroke="#ff0000" stroke-width="0"><tspan x="0.58" y="0.0" font-size="77.0">5</tspan></text>
<text transform="translate(1636.25,802.20) scale(0.85,1)" fill="#ff0000" stroke="#ff0000" stroke-width="0"><tspan x="3.52" y="0.0" font-size="72.5" font-family="Liberation Sans, Arial, sans-serif">0</tspan></text>
<text transform="translate(318.23,860.20) scale(0.85,1)" fill="#000000" stroke="#000000" stroke-width="0"><tspan x="0.58" y="0.0" font-size="77.0">2</tspan><tspan x="47.93" y="0.0" font-size="77.0">7</tspan><tspan x="95.28" y="0.0" font-size="77.0">5</tspan></text>
<text transform="translate(646.23,860.20) scale(0.85,1)" fill="#000000" stroke="#000000" stroke-width="0"><tspan x="0.58" y="0.0" font-size="77.0">2</tspan><tspan x="47.93" y="0.0" font-size="77.0">8</tspan><tspan x="98.23" y="0.0" font-size="72.5" font-family="Liberation Sans, Arial, sans-serif">0</tspan></text>
<text transform="translate(969.03,860.20) scale(0.85,1)" fill="#000000" stroke="#000000" stroke-width="0"><tspan x="0.58" y="0.0" font-size="77.0">2</tspan><tspan x="47.93" y="0.0" font-size="77.0">8</tspan><tspan x="95.28" y="0.0" font-size="77.0">5</tspan></text>
<text transform="translate(1297.22,860.20) scale(0.85,1)" fill="#000000" stroke="#000000" stroke-width="0"><tspan x="0.58" y="0.0" font-size="77.0">2</tspan><tspan x="47.93" y="0.0" font-size="77.0">9</tspan><tspan x="98.23" y="0.0" font-size="72.5" font-family="Liberation Sans, Arial, sans-serif">0</tspan></text>
<text transform="translate(89.30,815.75) rotate(-90) scale(0.85,1)" fill="#0000ff" stroke="#0000ff" stroke-width="0"><tspan x="4.11" y="0.0" font-size="77.0">S</tspan><tspan x="51.14" y="0.0" font-size="66.3" stroke-width="0.6">o</tspan><tspan x="98.49" y="0.0" font-size="66.3" stroke-width="0.6">i</tspan><tspan x="145.85" y="0.0" font-size="66.3" stroke-width="0.6">l</tspan><tspan x="189.99" font-size="77.0"> </tspan><tspan x="237.34" y="0.0" font-size="77.0">M</tspan><tspan x="287.90" y="0.0" font-size="66.3" stroke-width="0.6">o</tspan><tspan x="335.26" y="0.0" font-size="66.3" stroke-width="0.6">i</tspan><tspan x="382.61" y="0.0" font-size="66.3" stroke-width="0.6">s</tspan><tspan x="429.96" y="0.0" font-size="66.3" stroke-width="0.6">t</tspan><tspan x="477.32" y="0.0" font-size="66.3" stroke-width="0.6">u</tspan><tspan x="524.67" y="0.0" font-size="66.3" stroke-width="0.6">r</tspan><tspan x="572.02" y="0.0" font-size="66.3" stroke-width="0.6">e</tspan><tspan x="616.16" font-size="77.0"> </tspan><tspan x="672.70" y="-8.7" font-size="66.0">(</tspan><tspan x="714.08" y="0.0" font-size="66.3" stroke-width="0.6">p</tspan><tspan x="761.43" y="0.0" font-size="66.3" stroke-width="0.6">c</tspan><tspan x="808.79" y="0.0" font-size="66.3" stroke-width="0.6">t</tspan><tspan x="850.35" y="-8.7" font-size="66.0">)</tspan></text>
<text transform="translate(1820.00,733.25) rotate(-90) scale(0.85,1)" fill="#ff0000" stroke="#ff0000" stroke-width="0"><tspan x="4.11" y="0.0" font-size="77.0">S</tspan><tspan x="51.14" y="0.0" font-size="66.3" stroke-width="0.6">n</tspan><tspan x="98.49" y="0.0" font-size="66.3" stroke-width="0.6">o</tspan><tspan x="145.85" y="0.0" font-size="66.3" stroke-width="0.6">w</tspan><tspan x="189.99" font-size="77.0"> </tspan><tspan x="232.64" y="0.0" font-size="77.0">D</tspan><tspan x="287.90" y="0.0" font-size="66.3" stroke-width="0.6">e</tspan><tspan x="335.26" y="0.0" font-size="66.3" stroke-width="0.6">p</tspan><tspan x="382.61" y="0.0" font-size="66.3" stroke-width="0.6">t</tspan><tspan x="429.96" y="0.0" font-size="66.3" stroke-width="0.6">h</tspan><tspan x="474.11" font-size="77.0"> </tspan><tspan x="530.64" y="-8.7" font-size="66.0">(</tspan><tspan x="572.02" y="0.0" font-size="66.3" stroke-width="0.6">c</tspan><tspan x="619.37" y="0.0" font-size="66.3" stroke-width="0.6">m</tspan><tspan x="660.94" y="-8.7" font-size="66.0">)</tspan></text>
<text transform="translate(226.10,957.80) scale(0.85,1)" fill="#000000" stroke="#000000" stroke-width="0"><tspan x="4.43" y="0.0" font-size="77.0" font-family="Liberation Serif, serif">1</tspan></text>
<text transform="translate(145.60,1170.70) scale(0.85,1)" fill="#000000" stroke="#000000" stroke-width="0"><tspan x="3.52" y="0.0" font-size="72.5" font-family="Liberation Sans, Arial, sans-serif">0</tspan><tspan x="37.81" y="0.0" font-size="77.0">.</tspan><tspan x="95.28" y="0.0" font-size="77.0">5</tspan></text>
<text transform="translate(226.10,1384.00) scale(0.85,1)" fill="#000000" stroke="#000000" stroke-width="0"><tspan x="3.52" y="0.0" font-size="72.5" font-family="Liberation Sans, Arial, sans-serif">0</tspan></text>
<text transform="translate(84.83,1592.06) scale(1.635,0.999)" fill="#000000" font-size="77.0">-</text><text transform="translate(145.60,1596.80) scale(0.85,1)" fill="#000000" stroke="#000000" stroke-width="0"><tspan x="3.52" y="0.0" font-size="72.5" font-family="Liberation Sans, Arial, sans-serif">0</tspan><tspan x="37.81" y="0.0" font-size="77.0">.</tspan><tspan x="95.28" y="0.0" font-size="77.0">5</tspan></text>
<text transform="translate(1621.73,953.16) scale(1.635,0.999)" fill="#ff00ff" font-size="77.0">-</text><text transform="translate(1682.50,957.90) scale(0.85,1)" fill="#ff00ff" stroke="#ff00ff" stroke-width="0"><tspan x="0.58" y="0.0" font-size="77.0">3</tspan><tspan x="37.81" y="0.0" font-size="77.0">.</tspan><tspan x="95.28" y="0.0" font-size="77.0">5</tspan></text>
<text transform="translate(1621.73,1166.46) scale(1.635,0.999)" fill="#ff00ff" font-size="77.0">-</text><text transform="translate(1682.50,1171.20) scale(0.85,1)" fill="#ff00ff" stroke="#ff00ff" stroke-width="0"><tspan x="0.58" y="0.0" font-size="77.0">4</tspan></text>
<text transform="translate(1621.73,1379.46) scale(1.635,0.999)" fill="#ff00ff" font-size="77.0">-</text><text transform="translate(1682.50,1384.20) scale(0.85,1)" fill="#ff00ff" stroke="#ff00ff" stroke-width="0"><tspan x="0.58" y="0.0" font-size="77.0">4</tspan><tspan x="37.81" y="0.0" font-size="77.0">.</tspan><tspan x="95.28" y="0.0" font-size="77.0">5</tspan></text>
<text transform="translate(1621.73,1592.16) scale(1.635,0.999)" fill="#ff00ff" font-size="77.0">-</text><text transform="translate(1682.50,1596.90) scale(0.85,1)" fill="#ff00ff" stroke="#ff00ff" stroke-width="0"><tspan x="0.58" y="0.0" font-size="77.0">5</tspan></text>
<text transform="translate(294.52,1653.70) scale(0.85,1)" fill="#000000" stroke="#000000" stroke-width="0"><tspan x="0.58" y="0.0" font-size="77.0">2</tspan><tspan x="47.93" y="0.0" font-size="77.0">7</tspan><tspan x="95.28" y="0.0" font-size="77.0">5</tspan></text>
<text transform="translate(628.92,1653.70) scale(0.85,1)" fill="#000000" stroke="#000000" stroke-width="0"><tspan x="0.58" y="0.0" font-size="77.0">2</tspan><tspan x="47.93" y="0.0" font-size="77.0">8</tspan><tspan x="98.23" y="0.0" font-size="72.5" font-family="Liberation Sans, Arial, sans-serif">0</tspan></text>
<text transform="translate(962.83,1653.70) scale(0.85,1)" fill="#000000" stroke="#000000" stroke-width="0"><tspan x="0.58" y="0.0" font-size="77.0">2</tspan><tspan x="47.93" y="0.0" font-size="77.0">8</tspan><tspan x="95.28" y="0.0" font-size="77.0">5</tspan></text>
<text transform="translate(1296.62,1653.70) scale(0.85,1)" fill="#000000" stroke="#000000" stroke-width="0"><tspan x="0.58" y="0.0" font-size="77.0">2</tspan><tspan x="47.93" y="0.0" font-size="77.0">9</tspan><tspan x="98.23" y="0.0" font-size="72.5" font-family="Liberation Sans, Arial, sans-serif">0</tspan></text>
<text transform="translate(123.00,1643.25) rotate(-90) scale(0.85,1)" fill="#000000" stroke="#000000" stroke-width="0"><tspan x="4.11" y="0.0" font-size="77.0">S</tspan><tspan x="51.14" y="0.0" font-size="66.3" stroke-width="0.6">o</tspan><tspan x="98.49" y="0.0" font-size="66.3" stroke-width="0.6">i</tspan><tspan x="145.85" y="0.0" font-size="66.3" stroke-width="0.6">l</tspan><tspan x="189.99" font-size="77.0"> </tspan><tspan x="237.34" y="0.0" font-size="77.0">T</tspan><tspan x="287.90" y="0.0" font-size="66.3" stroke-width="0.6">e</tspan><tspan x="335.26" y="0.0" font-size="66.3" stroke-width="0.6">m</tspan><tspan x="382.61" y="0.0" font-size="66.3" stroke-width="0.6">p</tspan><tspan x="429.96" y="0.0" font-size="66.3" stroke-width="0.6">e</tspan><tspan x="477.32" y="0.0" font-size="66.3" stroke-width="0.6">r</tspan><tspan x="524.67" y="0.0" font-size="66.3" stroke-width="0.6">a</tspan><tspan x="572.02" y="0.0" font-size="66.3" stroke-width="0.6">t</tspan><tspan x="619.37" y="0.0" font-size="66.3" stroke-width="0.6">u</tspan><tspan x="666.73" y="0.0" font-size="66.3" stroke-width="0.6">r</tspan><tspan x="714.08" y="0.0" font-size="66.3" stroke-width="0.6">e</tspan><tspan x="767.41" y="-8.7" font-size="66.0">(</tspan><tspan x="795.87" y="-10.0" font-size="77.0">°</tspan><tspan x="833.52" y="0.0" font-size="77.0">C</tspan><tspan x="884.17" y="-8.7" font-size="66.0">)</tspan></text>
<text transform="translate(1855.00,1539.50) rotate(-90) scale(0.85,1)" fill="#ff00ff" stroke="#ff00ff" stroke-width="0"><tspan x="0.58" y="0.0" font-size="77.0">A</tspan><tspan x="51.14" y="0.0" font-size="66.3" stroke-width="0.6">v</tspan><tspan x="98.49" y="0.0" font-size="66.3" stroke-width="0.6">g</tspan><tspan x="137.93" y="0.0" font-size="77.0">D</tspan><tspan x="193.20" y="0.0" font-size="66.3" stroke-width="0.6">e</tspan><tspan x="240.55" y="0.0" font-size="66.3" stroke-width="0.6">t</tspan><tspan x="287.90" y="0.0" font-size="66.3" stroke-width="0.6">r</tspan><tspan x="335.58" y="0.0" font-size="77.0">S</tspan><tspan x="379.40" y="0.0" font-size="77.0">N</tspan><tspan x="426.75" y="0.0" font-size="77.0">R</tspan><tspan x="483.29" y="-8.7" font-size="66.0">(</tspan><tspan x="524.67" y="0.0" font-size="66.3" stroke-width="0.6">d</tspan><tspan x="568.81" y="0.0" font-size="77.0">B</tspan><tspan x="613.58" y="-8.7" font-size="66.0">)</tspan></text>
<text transform="translate(877.40,1486.90) scale(0.85,1)" fill="#000000" stroke="#000000" stroke-width="0"><tspan x="0.58" y="0.0" font-size="77.0">Y</tspan><tspan x="51.14" y="0.0" font-size="66.3" stroke-width="0.6">e</tspan><tspan x="98.49" y="0.0" font-size="66.3" stroke-width="0.6">a</tspan><tspan x="145.85" y="0.0" font-size="66.3" stroke-width="0.6">r</tspan><tspan x="189.99" font-size="77.0"> </tspan><tspan x="237.34" y="0.0" font-size="77.0">2</tspan><tspan x="287.64" y="0.0" font-size="72.5" font-family="Liberation Sans, Arial, sans-serif">0</tspan><tspan x="334.99" y="0.0" font-size="72.5" font-family="Liberation Sans, Arial, sans-serif">0</tspan><tspan x="379.40" y="0.0" font-size="77.0">9</tspan></text>
<text transform="translate(887.70,1757.80) scale(0.85,1)" fill="#000000" stroke="#000000" stroke-width="0"><tspan x="-4.13" y="0.0" font-size="77.0">D</tspan><tspan x="47.93" y="0.0" font-size="77.0">O</tspan><tspan x="95.28" y="0.0" font-size="77.0">Y</tspan></text>
</g>
</svg>
</body></html>
